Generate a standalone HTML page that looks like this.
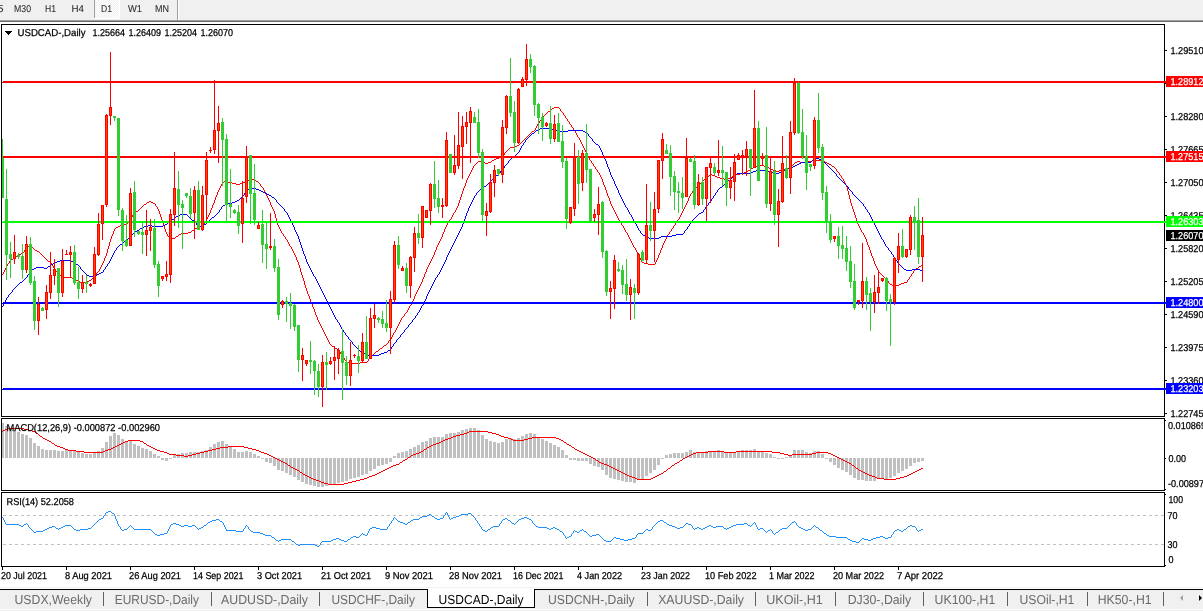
<!DOCTYPE html>
<html lang="en"><head><meta charset="utf-8"><title>USDCAD-,Daily</title>
<style>html,body{margin:0;padding:0;background:#fff;overflow:hidden}svg{display:block;font-family:"Liberation Sans",sans-serif}text{white-space:pre;text-rendering:geometricPrecision}</style></head><body>
<svg width="1203" height="611" viewBox="0 0 1203 611" shape-rendering="crispEdges">
<rect x="0" y="0" width="1203" height="611" fill="#fff"/>
<g id="toolbar">
<rect x="0" y="0" width="1203" height="20" fill="#f0f0f0"/>
<rect x="0" y="20" width="1203" height="1" fill="#a0a0a0"/>
<rect x="0" y="21" width="1203" height="1" fill="#696969"/>
<defs><pattern id="dith" width="2" height="2" patternUnits="userSpaceOnUse"><rect width="2" height="2" fill="#f0f0f0"/><rect width="1" height="1" fill="#fff"/><rect x="1" y="1" width="1" height="1" fill="#fff"/></pattern></defs>
<rect x="95" y="0" width="24" height="18" fill="url(#dith)"/>
<rect x="94" y="0" width="1" height="18" fill="#a0a0a0"/>
<rect x="119" y="0" width="1" height="19" fill="#fff"/>
<rect x="94" y="18" width="26" height="1" fill="#fff"/>
<rect x="177" y="0" width="1" height="20" fill="#a0a0a0"/>
<rect x="178" y="0" width="1" height="20" fill="#fff"/>
<text x="-2.5" y="12" font-size="10" fill="#303030" stroke="#303030" stroke-width="0.1" textLength="6" lengthAdjust="spacingAndGlyphs">5</text>
<text x="14" y="12" font-size="10" fill="#303030" stroke="#303030" stroke-width="0.1" textLength="17" lengthAdjust="spacingAndGlyphs">M30</text>
<text x="45" y="12" font-size="10" fill="#303030" stroke="#303030" stroke-width="0.1" textLength="11" lengthAdjust="spacingAndGlyphs">H1</text>
<text x="71.5" y="12" font-size="10" fill="#303030" stroke="#303030" stroke-width="0.1" textLength="12.5" lengthAdjust="spacingAndGlyphs">H4</text>
<text x="101" y="12" font-size="10" fill="#303030" stroke="#303030" stroke-width="0.1" textLength="11" lengthAdjust="spacingAndGlyphs">D1</text>
<text x="128" y="12" font-size="10" fill="#303030" stroke="#303030" stroke-width="0.1" textLength="14" lengthAdjust="spacingAndGlyphs">W1</text>
<text x="155" y="12" font-size="10" fill="#303030" stroke="#303030" stroke-width="0.1" textLength="14" lengthAdjust="spacingAndGlyphs">MN</text>
</g>
<g id="ma">
<path d="M554 107h5v1h-5zM552 108h2v1h-2zM548 111h2v1h-2zM532 131h2v1h-2zM517 145h2v1h-2zM515 146h2v1h-2zM510 147h5v1h-5zM501 156h2v1h-2zM499 157h2v1h-2zM496 158h3v1h-3zM494 159h2v1h-2zM492 160h2v1h-2zM812 160h11v1h-11zM478 161h5v1h-5zM797 161h3v1h-3zM808 161h4v1h-4zM823 161h2v1h-2zM483 162h2v1h-2zM488 162h3v1h-3zM795 162h2v1h-2zM800 162h8v1h-8zM825 162h2v1h-2zM485 163h3v1h-3zM827 163h2v1h-2zM829 164h2v1h-2zM757 165h7v1h-7zM755 166h2v1h-2zM764 166h3v1h-3zM832 166h2v1h-2zM753 167h2v1h-2zM767 167h2v1h-2zM789 167h2v1h-2zM751 168h2v1h-2zM769 168h2v1h-2zM787 168h2v1h-2zM771 169h2v1h-2zM781 169h6v1h-6zM748 170h2v1h-2zM773 170h3v1h-3zM779 170h2v1h-2zM776 171h3v1h-3zM744 172h3v1h-3zM740 173h4v1h-4zM710 174h2v1h-2zM736 174h4v1h-4zM712 175h3v1h-3zM734 175h2v1h-2zM715 176h2v1h-2zM732 176h2v1h-2zM717 177h3v1h-3zM720 178h4v1h-4zM728 178h3v1h-3zM249 179h6v1h-6zM704 179h2v1h-2zM724 179h4v1h-4zM247 180h2v1h-2zM224 181h4v1h-4zM245 181h2v1h-2zM256 181h2v1h-2zM222 182h2v1h-2zM228 182h4v1h-4zM243 182h2v1h-2zM232 183h4v1h-4zM240 183h3v1h-3zM236 184h4v1h-4zM149 201h2v1h-2zM147 202h2v1h-2zM151 202h2v1h-2zM153 203h2v1h-2zM144 204h2v1h-2zM136 211h2v1h-2zM124 224h3v1h-3zM120 225h4v1h-4zM201 225h2v1h-2zM118 226h2v1h-2zM199 226h2v1h-2zM116 227h2v1h-2zM197 227h2v1h-2zM195 228h2v1h-2zM192 230h2v1h-2zM188 232h3v1h-3zM181 233h7v1h-7zM179 234h2v1h-2zM176 236h2v1h-2zM172 238h3v1h-3zM170 239h2v1h-2zM28 246h2v1h-2zM35 250h2v1h-2zM37 251h2v1h-2zM21 253h2v1h-2zM19 254h2v1h-2zM16 256h2v1h-2zM13 258h2v1h-2zM11 259h2v1h-2zM48 261h2v1h-2zM642 262h2v1h-2zM644 263h4v1h-4zM648 264h7v1h-7zM921 265h2v1h-2zM919 266h2v1h-2zM916 268h2v1h-2zM59 275h2v1h-2zM61 276h3v1h-3zM64 277h8v1h-8zM72 278h3v1h-3zM76 280h2v1h-2zM89 280h2v1h-2zM78 281h2v1h-2zM87 281h2v1h-2zM80 282h7v1h-7zM904 282h3v1h-3zM901 283h3v1h-3zM890 284h2v1h-2zM899 284h2v1h-2zM892 285h7v1h-7zM384 345h2v1h-2zM332 346h2v1h-2zM335 348h2v1h-2zM380 348h2v1h-2zM337 349h2v1h-2zM376 351h2v1h-2zM347 362h2v1h-2zM360 362h7v1h-7zM349 363h11v1h-11zM2 274h1v1h-1zM3 272h1v2h-1zM4 270h1v2h-1zM5 268h1v2h-1zM6 266h1v2h-1zM7 264h1v2h-1zM8 263h1v1h-1zM9 261h1v2h-1zM10 260h1v1h-1zM15 257h1v1h-1zM18 255h1v1h-1zM23 252h1v1h-1zM24 250h1v2h-1zM25 249h1v1h-1zM26 248h1v1h-1zM27 247h1v1h-1zM30 245h1v1h-1zM31 246h1v1h-1zM32 247h1v1h-1zM33 248h1v1h-1zM34 249h1v1h-1zM39 252h1v1h-1zM40 253h1v1h-1zM41 254h1v1h-1zM42 255h1v1h-1zM43 256h1v1h-1zM44 257h1v1h-1zM45 258h1v1h-1zM46 259h1v1h-1zM47 260h1v1h-1zM50 262h1v1h-1zM51 263h1v2h-1zM52 265h1v1h-1zM53 266h1v2h-1zM54 268h1v1h-1zM55 269h1v2h-1zM56 271h1v1h-1zM57 272h1v2h-1zM58 274h1v1h-1zM75 279h1v1h-1zM91 279h1v1h-1zM92 278h1v1h-1zM93 277h1v1h-1zM94 276h1v1h-1zM95 275h1v1h-1zM96 273h1v2h-1zM97 272h1v1h-1zM98 271h1v1h-1zM99 269h1v2h-1zM100 267h1v2h-1zM101 265h1v2h-1zM102 263h1v2h-1zM103 261h1v2h-1zM104 258h1v3h-1zM105 256h1v2h-1zM106 253h1v3h-1zM107 249h1v4h-1zM108 246h1v3h-1zM109 242h1v4h-1zM110 239h1v3h-1zM111 236h1v3h-1zM112 234h1v2h-1zM113 231h1v3h-1zM114 229h1v2h-1zM115 228h1v1h-1zM127 222h1v2h-1zM128 221h1v1h-1zM129 219h1v2h-1zM130 218h1v1h-1zM131 217h1v1h-1zM132 215h1v2h-1zM133 214h1v1h-1zM134 213h1v1h-1zM135 212h1v1h-1zM138 210h1v1h-1zM139 209h1v1h-1zM140 208h1v1h-1zM141 207h1v1h-1zM142 206h1v1h-1zM143 205h1v1h-1zM146 203h1v1h-1zM155 204h1v2h-1zM156 206h1v1h-1zM157 207h1v2h-1zM158 209h1v2h-1zM159 211h1v3h-1zM160 214h1v3h-1zM161 217h1v3h-1zM162 220h1v3h-1zM163 223h1v3h-1zM164 226h1v3h-1zM165 229h1v3h-1zM166 232h1v2h-1zM167 234h1v2h-1zM168 236h1v1h-1zM169 237h1v2h-1zM175 237h1v1h-1zM178 235h1v1h-1zM191 231h1v1h-1zM194 229h1v1h-1zM203 224h1v1h-1zM204 222h1v2h-1zM205 221h1v1h-1zM206 219h1v2h-1zM207 217h1v2h-1zM208 215h1v2h-1zM209 213h1v2h-1zM210 210h1v3h-1zM211 208h1v2h-1zM212 205h1v3h-1zM213 203h1v2h-1zM214 200h1v3h-1zM215 197h1v3h-1zM216 195h1v2h-1zM217 192h1v3h-1zM218 190h1v2h-1zM219 188h1v2h-1zM220 186h1v2h-1zM221 184h1v2h-1zM222 183h1v1h-1zM255 180h1v1h-1zM258 182h1v1h-1zM259 183h1v1h-1zM260 184h1v2h-1zM261 186h1v1h-1zM262 187h1v1h-1zM263 188h1v2h-1zM264 190h1v2h-1zM265 192h1v2h-1zM266 194h1v2h-1zM267 196h1v2h-1zM268 198h1v2h-1zM269 200h1v2h-1zM270 202h1v3h-1zM271 205h1v2h-1zM272 207h1v2h-1zM273 209h1v2h-1zM274 211h1v3h-1zM275 214h1v4h-1zM276 218h1v3h-1zM277 221h1v4h-1zM278 225h1v2h-1zM279 227h1v2h-1zM280 229h1v2h-1zM281 231h1v2h-1zM282 233h1v1h-1zM283 234h1v2h-1zM284 236h1v1h-1zM285 237h1v2h-1zM286 239h1v1h-1zM287 240h1v2h-1zM288 242h1v2h-1zM289 244h1v2h-1zM290 246h1v1h-1zM291 247h1v2h-1zM292 249h1v2h-1zM293 251h1v2h-1zM294 253h1v2h-1zM295 255h1v2h-1zM296 257h1v3h-1zM297 260h1v2h-1zM298 262h1v3h-1zM299 265h1v3h-1zM300 268h1v4h-1zM301 272h1v3h-1zM302 275h1v3h-1zM303 278h1v3h-1zM304 281h1v4h-1zM305 285h1v3h-1zM306 288h1v3h-1zM307 291h1v3h-1zM308 294h1v2h-1zM309 296h1v3h-1zM310 299h1v3h-1zM311 302h1v2h-1zM312 304h1v3h-1zM313 307h1v2h-1zM314 309h1v3h-1zM315 312h1v3h-1zM316 315h1v2h-1zM317 317h1v3h-1zM318 320h1v2h-1zM319 322h1v2h-1zM320 324h1v2h-1zM321 326h1v2h-1zM322 328h1v2h-1zM323 330h1v2h-1zM324 332h1v2h-1zM325 334h1v2h-1zM326 336h1v2h-1zM327 338h1v2h-1zM328 340h1v2h-1zM329 342h1v2h-1zM330 344h1v1h-1zM331 345h1v1h-1zM334 347h1v1h-1zM339 350h1v2h-1zM340 352h1v2h-1zM341 354h1v2h-1zM342 356h1v1h-1zM343 357h1v1h-1zM344 358h1v2h-1zM345 360h1v1h-1zM346 361h1v1h-1zM367 361h1v1h-1zM368 359h1v2h-1zM369 358h1v1h-1zM370 357h1v1h-1zM371 356h1v1h-1zM372 355h1v1h-1zM373 354h1v1h-1zM374 353h1v1h-1zM375 352h1v1h-1zM378 350h1v1h-1zM379 349h1v1h-1zM382 347h1v1h-1zM383 346h1v1h-1zM386 344h1v1h-1zM387 343h1v1h-1zM388 341h1v2h-1zM389 340h1v1h-1zM390 339h1v1h-1zM391 337h1v2h-1zM392 335h1v2h-1zM393 333h1v2h-1zM394 332h1v1h-1zM395 330h1v2h-1zM396 328h1v2h-1zM397 326h1v2h-1zM398 324h1v2h-1zM399 322h1v2h-1zM400 320h1v2h-1zM401 318h1v2h-1zM402 317h1v1h-1zM403 316h1v1h-1zM404 314h1v2h-1zM405 313h1v1h-1zM406 312h1v1h-1zM407 310h1v2h-1zM408 308h1v2h-1zM409 306h1v2h-1zM410 305h1v1h-1zM411 303h1v2h-1zM412 301h1v2h-1zM413 299h1v2h-1zM414 296h1v3h-1zM415 294h1v2h-1zM416 292h1v2h-1zM417 290h1v2h-1zM418 288h1v2h-1zM419 286h1v2h-1zM420 284h1v2h-1zM421 282h1v2h-1zM422 279h1v3h-1zM423 277h1v2h-1zM424 274h1v3h-1zM425 272h1v2h-1zM426 269h1v3h-1zM427 267h1v2h-1zM428 265h1v2h-1zM429 263h1v2h-1zM430 261h1v2h-1zM431 259h1v2h-1zM432 257h1v2h-1zM433 255h1v2h-1zM434 252h1v3h-1zM435 250h1v2h-1zM436 247h1v3h-1zM437 245h1v2h-1zM438 243h1v2h-1zM439 241h1v2h-1zM440 239h1v2h-1zM441 237h1v2h-1zM442 234h1v3h-1zM443 232h1v2h-1zM444 229h1v3h-1zM445 227h1v2h-1zM446 225h1v2h-1zM447 223h1v2h-1zM448 222h1v1h-1zM449 220h1v2h-1zM450 219h1v1h-1zM451 217h1v2h-1zM452 215h1v2h-1zM453 213h1v2h-1zM454 212h1v1h-1zM455 210h1v2h-1zM456 208h1v2h-1zM457 206h1v2h-1zM458 203h1v3h-1zM459 200h1v3h-1zM460 197h1v3h-1zM461 194h1v3h-1zM462 191h1v3h-1zM463 188h1v3h-1zM464 186h1v2h-1zM465 183h1v3h-1zM466 180h1v3h-1zM467 178h1v2h-1zM468 176h1v2h-1zM469 174h1v2h-1zM470 172h1v2h-1zM471 170h1v2h-1zM472 168h1v2h-1zM473 166h1v2h-1zM474 165h1v1h-1zM475 164h1v1h-1zM476 163h1v1h-1zM477 162h1v1h-1zM491 161h1v1h-1zM503 155h1v1h-1zM504 153h1v2h-1zM505 152h1v1h-1zM506 151h1v1h-1zM507 150h1v1h-1zM508 149h1v1h-1zM509 148h1v1h-1zM519 144h1v1h-1zM520 143h1v1h-1zM521 142h1v1h-1zM522 141h1v1h-1zM523 140h1v1h-1zM524 139h1v1h-1zM525 138h1v1h-1zM526 137h1v1h-1zM527 136h1v1h-1zM528 135h1v1h-1zM529 134h1v1h-1zM530 133h1v1h-1zM531 132h1v1h-1zM534 130h1v1h-1zM535 128h1v2h-1zM536 126h1v2h-1zM537 124h1v2h-1zM538 123h1v1h-1zM539 121h1v2h-1zM540 120h1v1h-1zM541 118h1v2h-1zM542 117h1v1h-1zM543 116h1v1h-1zM544 115h1v1h-1zM545 114h1v1h-1zM546 113h1v1h-1zM547 112h1v1h-1zM550 110h1v1h-1zM551 109h1v1h-1zM559 108h1v1h-1zM560 109h1v2h-1zM561 111h1v1h-1zM562 112h1v1h-1zM563 113h1v2h-1zM564 115h1v1h-1zM565 116h1v2h-1zM566 118h1v1h-1zM567 119h1v2h-1zM568 121h1v1h-1zM569 122h1v2h-1zM570 124h1v1h-1zM571 125h1v2h-1zM572 127h1v1h-1zM573 128h1v2h-1zM574 130h1v1h-1zM575 131h1v2h-1zM576 133h1v2h-1zM577 135h1v2h-1zM578 137h1v1h-1zM579 138h1v2h-1zM580 140h1v2h-1zM581 142h1v2h-1zM582 144h1v2h-1zM583 146h1v2h-1zM584 148h1v2h-1zM585 150h1v2h-1zM586 152h1v2h-1zM587 154h1v2h-1zM588 156h1v2h-1zM589 158h1v2h-1zM590 160h1v1h-1zM591 161h1v2h-1zM592 163h1v1h-1zM593 164h1v2h-1zM594 166h1v1h-1zM595 167h1v2h-1zM596 169h1v1h-1zM597 170h1v2h-1zM598 172h1v1h-1zM599 173h1v2h-1zM600 175h1v2h-1zM601 177h1v2h-1zM602 179h1v3h-1zM603 182h1v3h-1zM604 185h1v2h-1zM605 187h1v3h-1zM606 190h1v3h-1zM607 193h1v3h-1zM608 196h1v2h-1zM609 198h1v3h-1zM610 201h1v3h-1zM611 204h1v2h-1zM612 206h1v2h-1zM613 208h1v2h-1zM614 210h1v2h-1zM615 212h1v2h-1zM616 214h1v2h-1zM617 216h1v2h-1zM618 218h1v2h-1zM619 220h1v2h-1zM620 222h1v1h-1zM621 223h1v2h-1zM622 225h1v1h-1zM623 226h1v2h-1zM624 228h1v2h-1zM625 230h1v2h-1zM626 232h1v1h-1zM627 233h1v2h-1zM628 235h1v2h-1zM629 237h1v2h-1zM630 239h1v2h-1zM631 241h1v2h-1zM632 243h1v2h-1zM633 245h1v2h-1zM634 247h1v1h-1zM635 248h1v2h-1zM636 250h1v2h-1zM637 252h1v2h-1zM638 254h1v2h-1zM639 256h1v2h-1zM640 258h1v2h-1zM641 260h1v2h-1zM655 262h1v2h-1zM656 260h1v2h-1zM657 258h1v2h-1zM658 255h1v3h-1zM659 253h1v2h-1zM660 250h1v3h-1zM661 248h1v2h-1zM662 245h1v3h-1zM663 243h1v2h-1zM664 241h1v2h-1zM665 239h1v2h-1zM666 237h1v2h-1zM667 235h1v2h-1zM668 234h1v1h-1zM669 232h1v2h-1zM670 231h1v1h-1zM671 229h1v2h-1zM672 228h1v1h-1zM673 226h1v2h-1zM674 225h1v1h-1zM675 223h1v2h-1zM676 222h1v1h-1zM677 220h1v2h-1zM678 219h1v1h-1zM679 217h1v2h-1zM680 215h1v2h-1zM681 213h1v2h-1zM682 211h1v2h-1zM683 209h1v2h-1zM684 207h1v2h-1zM685 205h1v2h-1zM686 203h1v2h-1zM687 201h1v2h-1zM688 198h1v3h-1zM689 196h1v2h-1zM690 194h1v2h-1zM691 193h1v1h-1zM692 191h1v2h-1zM693 190h1v1h-1zM694 189h1v1h-1zM695 188h1v1h-1zM696 187h1v1h-1zM697 186h1v1h-1zM698 185h1v1h-1zM699 184h1v1h-1zM700 183h1v1h-1zM701 182h1v1h-1zM702 181h1v1h-1zM703 180h1v1h-1zM706 178h1v1h-1zM707 177h1v1h-1zM708 176h1v1h-1zM709 175h1v1h-1zM731 177h1v1h-1zM747 171h1v1h-1zM750 169h1v1h-1zM791 166h1v1h-1zM792 165h1v1h-1zM793 164h1v1h-1zM794 163h1v1h-1zM831 165h1v1h-1zM834 167h1v1h-1zM835 168h1v1h-1zM836 169h1v2h-1zM837 171h1v1h-1zM838 172h1v1h-1zM839 173h1v2h-1zM840 175h1v1h-1zM841 176h1v2h-1zM842 178h1v1h-1zM843 179h1v2h-1zM844 181h1v2h-1zM845 183h1v2h-1zM846 185h1v2h-1zM847 187h1v4h-1zM848 191h1v4h-1zM849 195h1v4h-1zM850 199h1v4h-1zM851 203h1v3h-1zM852 206h1v3h-1zM853 209h1v3h-1zM854 212h1v3h-1zM855 215h1v3h-1zM856 218h1v3h-1zM857 221h1v3h-1zM858 224h1v2h-1zM859 226h1v2h-1zM860 228h1v2h-1zM861 230h1v2h-1zM862 232h1v1h-1zM863 233h1v2h-1zM864 235h1v2h-1zM865 237h1v2h-1zM866 239h1v3h-1zM867 242h1v3h-1zM868 245h1v2h-1zM869 247h1v3h-1zM870 250h1v3h-1zM871 253h1v3h-1zM872 256h1v2h-1zM873 258h1v3h-1zM874 261h1v3h-1zM875 264h1v2h-1zM876 266h1v2h-1zM877 268h1v2h-1zM878 270h1v2h-1zM879 272h1v1h-1zM880 273h1v1h-1zM881 274h1v1h-1zM882 275h1v1h-1zM883 276h1v1h-1zM884 277h1v1h-1zM885 278h1v1h-1zM886 279h1v1h-1zM887 280h1v1h-1zM888 281h1v2h-1zM889 283h1v1h-1zM907 280h1v2h-1zM908 279h1v1h-1zM909 277h1v2h-1zM910 276h1v1h-1zM911 274h1v2h-1zM912 273h1v1h-1zM913 271h1v2h-1zM914 270h1v1h-1zM915 269h1v1h-1zM918 267h1v1h-1z" fill="#ff0000"/>
<path d="M540 128h11v1h-11zM538 129h2v1h-2zM551 129h2v1h-2zM536 130h2v1h-2zM553 130h7v1h-7zM568 130h15v1h-15zM560 131h8v1h-8zM583 131h2v1h-2zM585 132h2v1h-2zM532 133h2v1h-2zM596 144h2v1h-2zM512 157h2v1h-2zM814 158h5v1h-5zM819 159h2v1h-2zM821 160h2v1h-2zM801 162h10v1h-10zM799 163h2v1h-2zM797 164h2v1h-2zM795 165h2v1h-2zM793 166h2v1h-2zM791 167h2v1h-2zM788 168h3v1h-3zM785 169h3v1h-3zM756 170h12v1h-12zM783 170h2v1h-2zM753 171h3v1h-3zM768 171h3v1h-3zM781 171h2v1h-2zM751 172h2v1h-2zM771 172h2v1h-2zM779 172h2v1h-2zM737 173h14v1h-14zM773 173h6v1h-6zM735 174h2v1h-2zM496 175h2v1h-2zM728 180h2v1h-2zM484 186h2v1h-2zM720 187h2v1h-2zM250 188h6v1h-6zM248 189h2v1h-2zM256 189h3v1h-3zM480 189h2v1h-2zM259 190h2v1h-2zM261 191h2v1h-2zM263 192h2v1h-2zM265 193h2v1h-2zM267 194h2v1h-2zM269 195h2v1h-2zM272 197h2v1h-2zM237 200h2v1h-2zM235 201h2v1h-2zM232 202h3v1h-3zM228 203h4v1h-4zM225 204h3v1h-3zM223 205h2v1h-2zM701 212h2v1h-2zM699 213h2v1h-2zM180 214h7v1h-7zM178 215h2v1h-2zM176 216h2v1h-2zM212 217h2v1h-2zM172 219h2v1h-2zM192 220h2v1h-2zM168 222h2v1h-2zM165 224h2v1h-2zM204 224h2v1h-2zM148 225h4v1h-4zM163 225h2v1h-2zM144 226h4v1h-4zM152 226h11v1h-11zM198 226h5v1h-5zM142 227h2v1h-2zM140 228h2v1h-2zM137 230h2v1h-2zM135 231h2v1h-2zM676 234h7v1h-7zM643 235h2v1h-2zM672 235h4v1h-4zM645 236h2v1h-2zM661 236h11v1h-11zM647 237h2v1h-2zM659 237h2v1h-2zM649 238h10v1h-10zM124 241h2v1h-2zM120 244h2v1h-2zM60 260h11v1h-11zM57 261h3v1h-3zM71 261h2v1h-2zM55 262h2v1h-2zM73 262h2v1h-2zM53 263h2v1h-2zM51 264h2v1h-2zM76 264h2v1h-2zM48 266h2v1h-2zM36 267h8v1h-8zM34 268h2v1h-2zM44 268h3v1h-3zM32 269h2v1h-2zM904 269h2v1h-2zM912 269h8v1h-8zM906 270h6v1h-6zM920 270h3v1h-3zM101 272h2v1h-2zM99 273h2v1h-2zM97 274h2v1h-2zM87 275h2v1h-2zM95 275h2v1h-2zM89 276h6v1h-6zM20 282h2v1h-2zM388 350h2v1h-2zM360 351h2v1h-2zM384 352h3v1h-3zM363 353h2v1h-2zM381 353h3v1h-3zM365 354h3v1h-3zM379 354h2v1h-2zM368 355h11v1h-11zM2 306h1v1h-1zM3 304h1v2h-1zM4 302h1v2h-1zM5 300h1v2h-1zM6 298h1v2h-1zM7 297h1v1h-1zM8 295h1v2h-1zM9 294h1v1h-1zM10 293h1v1h-1zM11 292h1v1h-1zM12 290h1v2h-1zM13 289h1v1h-1zM14 288h1v1h-1zM15 287h1v1h-1zM16 286h1v1h-1zM17 285h1v1h-1zM18 284h1v1h-1zM19 283h1v1h-1zM22 281h1v1h-1zM23 280h1v1h-1zM24 279h1v1h-1zM25 278h1v1h-1zM26 277h1v1h-1zM27 275h1v2h-1zM28 274h1v1h-1zM29 272h1v2h-1zM30 271h1v1h-1zM31 270h1v1h-1zM47 267h1v1h-1zM50 265h1v1h-1zM75 263h1v1h-1zM78 265h1v1h-1zM79 266h1v1h-1zM80 267h1v2h-1zM81 269h1v1h-1zM82 270h1v1h-1zM83 271h1v1h-1zM84 272h1v1h-1zM85 273h1v1h-1zM86 274h1v1h-1zM103 270h1v2h-1zM104 269h1v1h-1zM105 267h1v2h-1zM106 266h1v1h-1zM107 264h1v2h-1zM108 263h1v1h-1zM109 261h1v2h-1zM110 259h1v2h-1zM111 257h1v2h-1zM112 255h1v2h-1zM113 253h1v2h-1zM114 251h1v2h-1zM115 250h1v1h-1zM116 248h1v2h-1zM117 247h1v1h-1zM118 246h1v1h-1zM119 245h1v1h-1zM122 243h1v1h-1zM123 242h1v1h-1zM126 240h1v1h-1zM127 239h1v1h-1zM128 238h1v1h-1zM129 237h1v1h-1zM130 236h1v1h-1zM131 235h1v1h-1zM132 234h1v1h-1zM133 233h1v1h-1zM134 232h1v1h-1zM139 229h1v1h-1zM167 223h1v1h-1zM170 221h1v1h-1zM171 220h1v1h-1zM174 218h1v1h-1zM175 217h1v1h-1zM187 215h1v1h-1zM188 216h1v1h-1zM189 217h1v1h-1zM190 218h1v1h-1zM191 219h1v1h-1zM194 221h1v1h-1zM195 222h1v1h-1zM196 223h1v2h-1zM197 225h1v1h-1zM203 225h1v1h-1zM206 223h1v1h-1zM207 222h1v1h-1zM208 221h1v1h-1zM209 220h1v1h-1zM210 219h1v1h-1zM211 218h1v1h-1zM214 216h1v1h-1zM215 215h1v1h-1zM216 214h1v1h-1zM217 213h1v1h-1zM218 212h1v1h-1zM219 210h1v2h-1zM220 209h1v1h-1zM221 207h1v2h-1zM222 206h1v1h-1zM239 199h1v1h-1zM240 198h1v1h-1zM241 197h1v1h-1zM242 196h1v1h-1zM243 195h1v1h-1zM244 193h1v2h-1zM245 192h1v1h-1zM246 191h1v1h-1zM247 190h1v1h-1zM271 196h1v1h-1zM274 198h1v1h-1zM275 199h1v1h-1zM276 200h1v2h-1zM277 202h1v1h-1zM278 203h1v1h-1zM279 204h1v1h-1zM280 205h1v1h-1zM281 206h1v1h-1zM282 207h1v1h-1zM283 208h1v1h-1zM284 209h1v2h-1zM285 211h1v1h-1zM286 212h1v1h-1zM287 213h1v2h-1zM288 215h1v2h-1zM289 217h1v2h-1zM290 219h1v2h-1zM291 221h1v2h-1zM292 223h1v2h-1zM293 225h1v2h-1zM294 227h1v3h-1zM295 230h1v2h-1zM296 232h1v2h-1zM297 234h1v2h-1zM298 236h1v3h-1zM299 239h1v3h-1zM300 242h1v3h-1zM301 245h1v3h-1zM302 248h1v3h-1zM303 251h1v3h-1zM304 254h1v2h-1zM305 256h1v3h-1zM306 259h1v3h-1zM307 262h1v2h-1zM308 264h1v2h-1zM309 266h1v2h-1zM310 268h1v2h-1zM311 270h1v2h-1zM312 272h1v2h-1zM313 274h1v2h-1zM314 276h1v1h-1zM315 277h1v2h-1zM316 279h1v2h-1zM317 281h1v2h-1zM318 283h1v2h-1zM319 285h1v2h-1zM320 287h1v2h-1zM321 289h1v2h-1zM322 291h1v2h-1zM323 293h1v2h-1zM324 295h1v2h-1zM325 297h1v2h-1zM326 299h1v2h-1zM327 301h1v2h-1zM328 303h1v2h-1zM329 305h1v2h-1zM330 307h1v2h-1zM331 309h1v2h-1zM332 311h1v2h-1zM333 313h1v2h-1zM334 315h1v2h-1zM335 317h1v2h-1zM336 319h1v1h-1zM337 320h1v2h-1zM338 322h1v1h-1zM339 323h1v2h-1zM340 325h1v2h-1zM341 327h1v2h-1zM342 329h1v1h-1zM343 330h1v2h-1zM344 332h1v1h-1zM345 333h1v2h-1zM346 335h1v1h-1zM347 336h1v1h-1zM348 337h1v2h-1zM349 339h1v1h-1zM350 340h1v1h-1zM351 341h1v1h-1zM352 342h1v2h-1zM353 344h1v1h-1zM354 345h1v1h-1zM355 346h1v1h-1zM356 347h1v1h-1zM357 348h1v1h-1zM358 349h1v1h-1zM359 350h1v1h-1zM362 352h1v1h-1zM387 351h1v1h-1zM390 349h1v1h-1zM391 347h1v2h-1zM392 346h1v1h-1zM393 344h1v2h-1zM394 343h1v1h-1zM395 342h1v1h-1zM396 340h1v2h-1zM397 339h1v1h-1zM398 338h1v1h-1zM399 337h1v1h-1zM400 335h1v2h-1zM401 334h1v1h-1zM402 333h1v1h-1zM403 332h1v1h-1zM404 330h1v2h-1zM405 329h1v1h-1zM406 328h1v1h-1zM407 327h1v1h-1zM408 325h1v2h-1zM409 324h1v1h-1zM410 323h1v1h-1zM411 322h1v1h-1zM412 320h1v2h-1zM413 319h1v1h-1zM414 318h1v1h-1zM415 316h1v2h-1zM416 315h1v1h-1zM417 313h1v2h-1zM418 312h1v1h-1zM419 310h1v2h-1zM420 308h1v2h-1zM421 306h1v2h-1zM422 305h1v1h-1zM423 303h1v2h-1zM424 301h1v2h-1zM425 299h1v2h-1zM426 296h1v3h-1zM427 294h1v2h-1zM428 292h1v2h-1zM429 290h1v2h-1zM430 288h1v2h-1zM431 286h1v2h-1zM432 284h1v2h-1zM433 282h1v2h-1zM434 280h1v2h-1zM435 278h1v2h-1zM436 277h1v1h-1zM437 275h1v2h-1zM438 274h1v1h-1zM439 272h1v2h-1zM440 270h1v2h-1zM441 268h1v2h-1zM442 266h1v2h-1zM443 264h1v2h-1zM444 262h1v2h-1zM445 260h1v2h-1zM446 257h1v3h-1zM447 255h1v2h-1zM448 253h1v2h-1zM449 251h1v2h-1zM450 249h1v2h-1zM451 247h1v2h-1zM452 245h1v2h-1zM453 243h1v2h-1zM454 241h1v2h-1zM455 239h1v2h-1zM456 237h1v2h-1zM457 235h1v2h-1zM458 233h1v2h-1zM459 231h1v2h-1zM460 229h1v2h-1zM461 227h1v2h-1zM462 224h1v3h-1zM463 221h1v3h-1zM464 219h1v2h-1zM465 216h1v3h-1zM466 213h1v3h-1zM467 211h1v2h-1zM468 208h1v3h-1zM469 206h1v2h-1zM470 204h1v2h-1zM471 202h1v2h-1zM472 200h1v2h-1zM473 198h1v2h-1zM474 196h1v2h-1zM475 195h1v1h-1zM476 193h1v2h-1zM477 192h1v1h-1zM478 191h1v1h-1zM479 190h1v1h-1zM482 188h1v1h-1zM483 187h1v1h-1zM486 185h1v1h-1zM487 184h1v1h-1zM488 183h1v1h-1zM489 182h1v1h-1zM490 181h1v1h-1zM491 180h1v1h-1zM492 179h1v1h-1zM493 178h1v1h-1zM494 177h1v1h-1zM495 176h1v1h-1zM498 174h1v1h-1zM499 173h1v1h-1zM500 171h1v2h-1zM501 170h1v1h-1zM502 169h1v1h-1zM503 168h1v1h-1zM504 166h1v2h-1zM505 165h1v1h-1zM506 164h1v1h-1zM507 163h1v1h-1zM508 161h1v2h-1zM509 160h1v1h-1zM510 159h1v1h-1zM511 158h1v1h-1zM514 156h1v1h-1zM515 155h1v1h-1zM516 154h1v1h-1zM517 153h1v1h-1zM518 152h1v1h-1zM519 150h1v2h-1zM520 148h1v2h-1zM521 146h1v2h-1zM522 145h1v1h-1zM523 143h1v2h-1zM524 142h1v1h-1zM525 140h1v2h-1zM526 139h1v1h-1zM527 138h1v1h-1zM528 137h1v1h-1zM529 136h1v1h-1zM530 135h1v1h-1zM531 134h1v1h-1zM534 132h1v1h-1zM535 131h1v1h-1zM587 133h1v1h-1zM588 134h1v2h-1zM589 136h1v1h-1zM590 137h1v1h-1zM591 138h1v1h-1zM592 139h1v2h-1zM593 141h1v1h-1zM594 142h1v1h-1zM595 143h1v1h-1zM598 145h1v1h-1zM599 146h1v2h-1zM600 148h1v2h-1zM601 150h1v2h-1zM602 152h1v3h-1zM603 155h1v2h-1zM604 157h1v2h-1zM605 159h1v2h-1zM606 161h1v3h-1zM607 164h1v3h-1zM608 167h1v2h-1zM609 169h1v3h-1zM610 172h1v3h-1zM611 175h1v2h-1zM612 177h1v2h-1zM613 179h1v2h-1zM614 181h1v3h-1zM615 184h1v2h-1zM616 186h1v2h-1zM617 188h1v2h-1zM618 190h1v3h-1zM619 193h1v2h-1zM620 195h1v2h-1zM621 197h1v2h-1zM622 199h1v2h-1zM623 201h1v2h-1zM624 203h1v2h-1zM625 205h1v2h-1zM626 207h1v1h-1zM627 208h1v2h-1zM628 210h1v2h-1zM629 212h1v2h-1zM630 214h1v1h-1zM631 215h1v2h-1zM632 217h1v2h-1zM633 219h1v2h-1zM634 221h1v1h-1zM635 222h1v2h-1zM636 224h1v2h-1zM637 226h1v2h-1zM638 228h1v2h-1zM639 230h1v1h-1zM640 231h1v2h-1zM641 233h1v1h-1zM642 234h1v1h-1zM683 233h1v1h-1zM684 231h1v2h-1zM685 230h1v1h-1zM686 229h1v1h-1zM687 227h1v2h-1zM688 226h1v1h-1zM689 224h1v2h-1zM690 223h1v1h-1zM691 222h1v1h-1zM692 220h1v2h-1zM693 219h1v1h-1zM694 218h1v1h-1zM695 217h1v1h-1zM696 216h1v1h-1zM697 215h1v1h-1zM698 214h1v1h-1zM703 210h1v2h-1zM704 209h1v1h-1zM705 207h1v2h-1zM706 206h1v1h-1zM707 205h1v1h-1zM708 203h1v2h-1zM709 202h1v1h-1zM710 201h1v1h-1zM711 199h1v2h-1zM712 198h1v1h-1zM713 196h1v2h-1zM714 195h1v1h-1zM715 193h1v2h-1zM716 192h1v1h-1zM717 190h1v2h-1zM718 189h1v1h-1zM719 188h1v1h-1zM722 186h1v1h-1zM723 185h1v1h-1zM724 184h1v1h-1zM725 183h1v1h-1zM726 182h1v1h-1zM727 181h1v1h-1zM730 179h1v1h-1zM731 178h1v1h-1zM732 177h1v1h-1zM733 176h1v1h-1zM734 175h1v1h-1zM811 161h1v1h-1zM812 160h1v1h-1zM813 159h1v1h-1zM823 161h1v1h-1zM824 162h1v1h-1zM825 163h1v1h-1zM826 164h1v1h-1zM827 165h1v1h-1zM828 166h1v1h-1zM829 167h1v1h-1zM830 168h1v1h-1zM831 169h1v1h-1zM832 170h1v1h-1zM833 171h1v1h-1zM834 172h1v1h-1zM835 173h1v1h-1zM836 174h1v2h-1zM837 176h1v1h-1zM838 177h1v1h-1zM839 178h1v1h-1zM840 179h1v1h-1zM841 180h1v1h-1zM842 181h1v1h-1zM843 182h1v1h-1zM844 183h1v1h-1zM845 184h1v1h-1zM846 185h1v1h-1zM847 186h1v1h-1zM848 187h1v2h-1zM849 189h1v1h-1zM850 190h1v1h-1zM851 191h1v1h-1zM852 192h1v2h-1zM853 194h1v1h-1zM854 195h1v1h-1zM855 196h1v1h-1zM856 197h1v1h-1zM857 198h1v1h-1zM858 199h1v1h-1zM859 200h1v1h-1zM860 201h1v1h-1zM861 202h1v1h-1zM862 203h1v1h-1zM863 204h1v2h-1zM864 206h1v1h-1zM865 207h1v2h-1zM866 209h1v1h-1zM867 210h1v2h-1zM868 212h1v1h-1zM869 213h1v2h-1zM870 215h1v2h-1zM871 217h1v2h-1zM872 219h1v2h-1zM873 221h1v2h-1zM874 223h1v2h-1zM875 225h1v2h-1zM876 227h1v2h-1zM877 229h1v2h-1zM878 231h1v2h-1zM879 233h1v2h-1zM880 235h1v2h-1zM881 237h1v2h-1zM882 239h1v1h-1zM883 240h1v2h-1zM884 242h1v2h-1zM885 244h1v2h-1zM886 246h1v1h-1zM887 247h1v1h-1zM888 248h1v2h-1zM889 250h1v1h-1zM890 251h1v1h-1zM891 252h1v2h-1zM892 254h1v1h-1zM893 255h1v2h-1zM894 257h1v1h-1zM895 258h1v2h-1zM896 260h1v1h-1zM897 261h1v2h-1zM898 263h1v1h-1zM899 264h1v1h-1zM900 265h1v1h-1zM901 266h1v1h-1zM902 267h1v1h-1zM903 268h1v1h-1z" fill="#0000ff"/>
</g>
<g id="hlines">
<rect x="3" y="81" width="1162" height="1" fill="#ff0000"/>
<rect x="2" y="82" width="1163" height="1" fill="#ff0000"/>
<rect x="3" y="156" width="1162" height="1" fill="#ff0000"/>
<rect x="2" y="157" width="1163" height="1" fill="#ff0000"/>
<rect x="3" y="221" width="1162" height="1" fill="#00ff00"/>
<rect x="2" y="222" width="1163" height="1" fill="#00ff00"/>
<rect x="3" y="302" width="1162" height="1" fill="#0000ff"/>
<rect x="2" y="303" width="1163" height="1" fill="#0000ff"/>
<rect x="3" y="388" width="1162" height="1" fill="#0000ff"/>
<rect x="2" y="389" width="1163" height="1" fill="#0000ff"/>
</g>
<g id="candles">
<rect x="2" y="139" width="1" height="59" fill="#32cd32"/>
<rect x="1" y="158" width="3" height="40" fill="#32cd32"/>
<rect x="6" y="169" width="1" height="111" fill="#32cd32"/>
<rect x="5" y="199" width="3" height="56" fill="#32cd32"/>
<rect x="10" y="242" width="1" height="36" fill="#32cd32"/>
<rect x="9" y="254" width="3" height="5" fill="#32cd32"/>
<rect x="14" y="235" width="1" height="29" fill="#ff0000"/>
<rect x="13" y="252" width="3" height="7" fill="#ff0000"/>
<rect x="14" y="253" width="1" height="5" fill="#ff4500"/>
<rect x="18" y="253" width="1" height="6" fill="#32cd32"/>
<rect x="17" y="255" width="3" height="2" fill="#32cd32"/>
<rect x="22" y="244" width="1" height="35" fill="#32cd32"/>
<rect x="21" y="256" width="3" height="14" fill="#32cd32"/>
<rect x="26" y="236" width="1" height="37" fill="#ff0000"/>
<rect x="25" y="244" width="3" height="26" fill="#ff0000"/>
<rect x="26" y="245" width="1" height="24" fill="#ff4500"/>
<rect x="30" y="237" width="1" height="48" fill="#32cd32"/>
<rect x="29" y="244" width="3" height="39" fill="#32cd32"/>
<rect x="34" y="276" width="1" height="54" fill="#32cd32"/>
<rect x="33" y="281" width="3" height="40" fill="#32cd32"/>
<rect x="38" y="297" width="1" height="38" fill="#ff0000"/>
<rect x="37" y="304" width="3" height="17" fill="#ff0000"/>
<rect x="38" y="305" width="1" height="15" fill="#ff4500"/>
<rect x="42" y="307" width="1" height="4" fill="#32cd32"/>
<rect x="41" y="308" width="3" height="3" fill="#32cd32"/>
<rect x="46" y="285" width="1" height="34" fill="#ff0000"/>
<rect x="45" y="292" width="3" height="18" fill="#ff0000"/>
<rect x="46" y="293" width="1" height="16" fill="#ff4500"/>
<rect x="50" y="252" width="1" height="47" fill="#ff0000"/>
<rect x="49" y="275" width="3" height="18" fill="#ff0000"/>
<rect x="50" y="276" width="1" height="16" fill="#ff4500"/>
<rect x="54" y="259" width="1" height="26" fill="#ff0000"/>
<rect x="53" y="269" width="3" height="7" fill="#ff0000"/>
<rect x="54" y="270" width="1" height="5" fill="#ff4500"/>
<rect x="58" y="268" width="1" height="39" fill="#32cd32"/>
<rect x="57" y="268" width="3" height="25" fill="#32cd32"/>
<rect x="62" y="249" width="1" height="48" fill="#ff0000"/>
<rect x="61" y="261" width="3" height="32" fill="#ff0000"/>
<rect x="62" y="262" width="1" height="30" fill="#ff4500"/>
<rect x="66" y="250" width="1" height="5" fill="#ff0000"/>
<rect x="65" y="254" width="3" height="1" fill="#ff0000"/>
<rect x="70" y="246" width="1" height="31" fill="#ff0000"/>
<rect x="69" y="252" width="3" height="3" fill="#ff0000"/>
<rect x="70" y="253" width="1" height="1" fill="#ff4500"/>
<rect x="74" y="245" width="1" height="40" fill="#32cd32"/>
<rect x="73" y="252" width="3" height="31" fill="#32cd32"/>
<rect x="78" y="267" width="1" height="32" fill="#32cd32"/>
<rect x="77" y="282" width="3" height="7" fill="#32cd32"/>
<rect x="82" y="275" width="1" height="18" fill="#ff0000"/>
<rect x="81" y="282" width="3" height="7" fill="#ff0000"/>
<rect x="82" y="283" width="1" height="5" fill="#ff4500"/>
<rect x="86" y="275" width="1" height="18" fill="#32cd32"/>
<rect x="85" y="282" width="3" height="2" fill="#32cd32"/>
<rect x="90" y="283" width="1" height="4" fill="#ff0000"/>
<rect x="89" y="284" width="3" height="2" fill="#ff0000"/>
<rect x="94" y="247" width="1" height="37" fill="#ff0000"/>
<rect x="93" y="254" width="3" height="30" fill="#ff0000"/>
<rect x="94" y="255" width="1" height="28" fill="#ff4500"/>
<rect x="98" y="213" width="1" height="43" fill="#ff0000"/>
<rect x="97" y="224" width="3" height="31" fill="#ff0000"/>
<rect x="98" y="225" width="1" height="29" fill="#ff4500"/>
<rect x="102" y="205" width="1" height="35" fill="#ff0000"/>
<rect x="101" y="205" width="3" height="19" fill="#ff0000"/>
<rect x="102" y="206" width="1" height="17" fill="#ff4500"/>
<rect x="106" y="114" width="1" height="93" fill="#ff0000"/>
<rect x="105" y="115" width="3" height="90" fill="#ff0000"/>
<rect x="106" y="116" width="1" height="88" fill="#ff4500"/>
<rect x="110" y="52" width="1" height="73" fill="#ff0000"/>
<rect x="109" y="107" width="3" height="9" fill="#ff0000"/>
<rect x="110" y="108" width="1" height="7" fill="#ff4500"/>
<rect x="114" y="116" width="1" height="5" fill="#32cd32"/>
<rect x="113" y="116" width="3" height="2" fill="#32cd32"/>
<rect x="118" y="118" width="1" height="98" fill="#32cd32"/>
<rect x="117" y="118" width="3" height="92" fill="#32cd32"/>
<rect x="122" y="208" width="1" height="43" fill="#32cd32"/>
<rect x="121" y="210" width="3" height="31" fill="#32cd32"/>
<rect x="126" y="215" width="1" height="32" fill="#32cd32"/>
<rect x="125" y="240" width="3" height="6" fill="#32cd32"/>
<rect x="130" y="188" width="1" height="58" fill="#ff0000"/>
<rect x="129" y="193" width="3" height="53" fill="#ff0000"/>
<rect x="130" y="194" width="1" height="51" fill="#ff4500"/>
<rect x="134" y="181" width="1" height="56" fill="#32cd32"/>
<rect x="133" y="192" width="3" height="38" fill="#32cd32"/>
<rect x="138" y="231" width="1" height="4" fill="#32cd32"/>
<rect x="137" y="231" width="3" height="3" fill="#32cd32"/>
<rect x="142" y="222" width="1" height="32" fill="#32cd32"/>
<rect x="141" y="232" width="3" height="3" fill="#32cd32"/>
<rect x="146" y="210" width="1" height="46" fill="#ff0000"/>
<rect x="145" y="230" width="3" height="5" fill="#ff0000"/>
<rect x="146" y="231" width="1" height="3" fill="#ff4500"/>
<rect x="150" y="219" width="1" height="32" fill="#ff0000"/>
<rect x="149" y="227" width="3" height="4" fill="#ff0000"/>
<rect x="150" y="228" width="1" height="2" fill="#ff4500"/>
<rect x="154" y="219" width="1" height="49" fill="#32cd32"/>
<rect x="153" y="228" width="3" height="37" fill="#32cd32"/>
<rect x="158" y="261" width="1" height="36" fill="#32cd32"/>
<rect x="157" y="264" width="3" height="22" fill="#32cd32"/>
<rect x="162" y="276" width="1" height="5" fill="#ff0000"/>
<rect x="161" y="276" width="3" height="3" fill="#ff0000"/>
<rect x="162" y="277" width="1" height="1" fill="#ff4500"/>
<rect x="166" y="261" width="1" height="20" fill="#ff0000"/>
<rect x="165" y="274" width="3" height="3" fill="#ff0000"/>
<rect x="166" y="275" width="1" height="1" fill="#ff4500"/>
<rect x="170" y="209" width="1" height="74" fill="#ff0000"/>
<rect x="169" y="214" width="3" height="61" fill="#ff0000"/>
<rect x="170" y="215" width="1" height="59" fill="#ff4500"/>
<rect x="174" y="152" width="1" height="74" fill="#ff0000"/>
<rect x="173" y="188" width="3" height="27" fill="#ff0000"/>
<rect x="174" y="189" width="1" height="25" fill="#ff4500"/>
<rect x="178" y="171" width="1" height="57" fill="#32cd32"/>
<rect x="177" y="189" width="3" height="16" fill="#32cd32"/>
<rect x="182" y="200" width="1" height="49" fill="#32cd32"/>
<rect x="181" y="204" width="3" height="4" fill="#32cd32"/>
<rect x="186" y="193" width="1" height="5" fill="#32cd32"/>
<rect x="185" y="193" width="3" height="3" fill="#32cd32"/>
<rect x="190" y="188" width="1" height="30" fill="#32cd32"/>
<rect x="189" y="196" width="3" height="18" fill="#32cd32"/>
<rect x="194" y="186" width="1" height="53" fill="#ff0000"/>
<rect x="193" y="190" width="3" height="23" fill="#ff0000"/>
<rect x="194" y="191" width="1" height="21" fill="#ff4500"/>
<rect x="198" y="181" width="1" height="49" fill="#32cd32"/>
<rect x="197" y="190" width="3" height="40" fill="#32cd32"/>
<rect x="202" y="186" width="1" height="45" fill="#ff0000"/>
<rect x="201" y="195" width="3" height="35" fill="#ff0000"/>
<rect x="202" y="196" width="1" height="33" fill="#ff4500"/>
<rect x="206" y="152" width="1" height="69" fill="#ff0000"/>
<rect x="205" y="160" width="3" height="35" fill="#ff0000"/>
<rect x="206" y="161" width="1" height="33" fill="#ff4500"/>
<rect x="210" y="147" width="1" height="6" fill="#ff0000"/>
<rect x="209" y="150" width="3" height="1" fill="#ff0000"/>
<rect x="214" y="80" width="1" height="74" fill="#ff0000"/>
<rect x="213" y="130" width="3" height="20" fill="#ff0000"/>
<rect x="214" y="131" width="1" height="18" fill="#ff4500"/>
<rect x="218" y="106" width="1" height="57" fill="#ff0000"/>
<rect x="217" y="123" width="3" height="8" fill="#ff0000"/>
<rect x="218" y="124" width="1" height="6" fill="#ff4500"/>
<rect x="222" y="118" width="1" height="68" fill="#32cd32"/>
<rect x="221" y="122" width="3" height="18" fill="#32cd32"/>
<rect x="226" y="134" width="1" height="87" fill="#32cd32"/>
<rect x="225" y="139" width="3" height="66" fill="#32cd32"/>
<rect x="230" y="169" width="1" height="49" fill="#32cd32"/>
<rect x="229" y="204" width="3" height="3" fill="#32cd32"/>
<rect x="234" y="209" width="1" height="5" fill="#32cd32"/>
<rect x="233" y="210" width="3" height="3" fill="#32cd32"/>
<rect x="238" y="205" width="1" height="29" fill="#32cd32"/>
<rect x="237" y="212" width="3" height="14" fill="#32cd32"/>
<rect x="242" y="181" width="1" height="62" fill="#ff0000"/>
<rect x="241" y="198" width="3" height="26" fill="#ff0000"/>
<rect x="242" y="199" width="1" height="24" fill="#ff4500"/>
<rect x="246" y="146" width="1" height="57" fill="#ff0000"/>
<rect x="245" y="157" width="3" height="40" fill="#ff0000"/>
<rect x="246" y="158" width="1" height="38" fill="#ff4500"/>
<rect x="250" y="155" width="1" height="69" fill="#32cd32"/>
<rect x="249" y="155" width="3" height="39" fill="#32cd32"/>
<rect x="254" y="164" width="1" height="61" fill="#32cd32"/>
<rect x="253" y="193" width="3" height="27" fill="#32cd32"/>
<rect x="258" y="222" width="1" height="7" fill="#ff0000"/>
<rect x="257" y="225" width="3" height="4" fill="#ff0000"/>
<rect x="258" y="226" width="1" height="2" fill="#ff4500"/>
<rect x="262" y="210" width="1" height="53" fill="#32cd32"/>
<rect x="261" y="224" width="3" height="21" fill="#32cd32"/>
<rect x="266" y="223" width="1" height="46" fill="#32cd32"/>
<rect x="265" y="244" width="3" height="5" fill="#32cd32"/>
<rect x="270" y="213" width="1" height="37" fill="#ff0000"/>
<rect x="269" y="246" width="3" height="2" fill="#ff0000"/>
<rect x="274" y="239" width="1" height="33" fill="#32cd32"/>
<rect x="273" y="246" width="3" height="22" fill="#32cd32"/>
<rect x="278" y="259" width="1" height="61" fill="#32cd32"/>
<rect x="277" y="267" width="3" height="48" fill="#32cd32"/>
<rect x="282" y="300" width="1" height="8" fill="#ff0000"/>
<rect x="281" y="301" width="3" height="4" fill="#ff0000"/>
<rect x="282" y="302" width="1" height="2" fill="#ff4500"/>
<rect x="286" y="297" width="1" height="25" fill="#32cd32"/>
<rect x="285" y="301" width="3" height="3" fill="#32cd32"/>
<rect x="290" y="293" width="1" height="36" fill="#32cd32"/>
<rect x="289" y="303" width="3" height="3" fill="#32cd32"/>
<rect x="294" y="304" width="1" height="27" fill="#32cd32"/>
<rect x="293" y="305" width="3" height="22" fill="#32cd32"/>
<rect x="298" y="325" width="1" height="47" fill="#32cd32"/>
<rect x="297" y="325" width="3" height="35" fill="#32cd32"/>
<rect x="302" y="348" width="1" height="33" fill="#ff0000"/>
<rect x="301" y="355" width="3" height="5" fill="#ff0000"/>
<rect x="302" y="356" width="1" height="3" fill="#ff4500"/>
<rect x="306" y="360" width="1" height="6" fill="#ff0000"/>
<rect x="305" y="360" width="3" height="4" fill="#ff0000"/>
<rect x="306" y="361" width="1" height="2" fill="#ff4500"/>
<rect x="310" y="341" width="1" height="33" fill="#32cd32"/>
<rect x="309" y="360" width="3" height="2" fill="#32cd32"/>
<rect x="314" y="360" width="1" height="35" fill="#32cd32"/>
<rect x="313" y="361" width="3" height="10" fill="#32cd32"/>
<rect x="318" y="364" width="1" height="33" fill="#32cd32"/>
<rect x="317" y="371" width="3" height="16" fill="#32cd32"/>
<rect x="322" y="355" width="1" height="52" fill="#ff0000"/>
<rect x="321" y="362" width="3" height="25" fill="#ff0000"/>
<rect x="322" y="363" width="1" height="23" fill="#ff4500"/>
<rect x="326" y="352" width="1" height="38" fill="#32cd32"/>
<rect x="325" y="362" width="3" height="3" fill="#32cd32"/>
<rect x="330" y="357" width="1" height="8" fill="#ff0000"/>
<rect x="329" y="361" width="3" height="3" fill="#ff0000"/>
<rect x="330" y="362" width="1" height="1" fill="#ff4500"/>
<rect x="334" y="346" width="1" height="34" fill="#ff0000"/>
<rect x="333" y="357" width="3" height="4" fill="#ff0000"/>
<rect x="334" y="358" width="1" height="2" fill="#ff4500"/>
<rect x="338" y="348" width="1" height="26" fill="#ff0000"/>
<rect x="337" y="350" width="3" height="9" fill="#ff0000"/>
<rect x="338" y="351" width="1" height="7" fill="#ff4500"/>
<rect x="342" y="329" width="1" height="71" fill="#32cd32"/>
<rect x="341" y="351" width="3" height="12" fill="#32cd32"/>
<rect x="346" y="356" width="1" height="29" fill="#32cd32"/>
<rect x="345" y="362" width="3" height="14" fill="#32cd32"/>
<rect x="350" y="342" width="1" height="44" fill="#ff0000"/>
<rect x="349" y="360" width="3" height="16" fill="#ff0000"/>
<rect x="350" y="361" width="1" height="14" fill="#ff4500"/>
<rect x="354" y="354" width="1" height="4" fill="#ff0000"/>
<rect x="353" y="355" width="3" height="1" fill="#ff0000"/>
<rect x="358" y="345" width="1" height="28" fill="#32cd32"/>
<rect x="357" y="356" width="3" height="5" fill="#32cd32"/>
<rect x="362" y="333" width="1" height="29" fill="#ff0000"/>
<rect x="361" y="342" width="3" height="19" fill="#ff0000"/>
<rect x="362" y="343" width="1" height="17" fill="#ff4500"/>
<rect x="366" y="316" width="1" height="43" fill="#32cd32"/>
<rect x="365" y="342" width="3" height="17" fill="#32cd32"/>
<rect x="370" y="308" width="1" height="51" fill="#ff0000"/>
<rect x="369" y="318" width="3" height="41" fill="#ff0000"/>
<rect x="370" y="319" width="1" height="39" fill="#ff4500"/>
<rect x="374" y="304" width="1" height="24" fill="#ff0000"/>
<rect x="373" y="315" width="3" height="4" fill="#ff0000"/>
<rect x="374" y="316" width="1" height="2" fill="#ff4500"/>
<rect x="378" y="317" width="1" height="6" fill="#32cd32"/>
<rect x="377" y="318" width="3" height="2" fill="#32cd32"/>
<rect x="382" y="311" width="1" height="17" fill="#32cd32"/>
<rect x="381" y="319" width="3" height="5" fill="#32cd32"/>
<rect x="386" y="300" width="1" height="32" fill="#32cd32"/>
<rect x="385" y="323" width="3" height="5" fill="#32cd32"/>
<rect x="390" y="291" width="1" height="63" fill="#ff0000"/>
<rect x="389" y="299" width="3" height="29" fill="#ff0000"/>
<rect x="390" y="300" width="1" height="27" fill="#ff4500"/>
<rect x="394" y="241" width="1" height="62" fill="#ff0000"/>
<rect x="393" y="245" width="3" height="55" fill="#ff0000"/>
<rect x="394" y="246" width="1" height="53" fill="#ff4500"/>
<rect x="398" y="236" width="1" height="33" fill="#32cd32"/>
<rect x="397" y="245" width="3" height="20" fill="#32cd32"/>
<rect x="402" y="266" width="1" height="5" fill="#ff0000"/>
<rect x="401" y="268" width="3" height="3" fill="#ff0000"/>
<rect x="402" y="269" width="1" height="1" fill="#ff4500"/>
<rect x="406" y="263" width="1" height="30" fill="#32cd32"/>
<rect x="405" y="268" width="3" height="18" fill="#32cd32"/>
<rect x="410" y="256" width="1" height="42" fill="#ff0000"/>
<rect x="409" y="257" width="3" height="29" fill="#ff0000"/>
<rect x="410" y="258" width="1" height="27" fill="#ff4500"/>
<rect x="414" y="227" width="1" height="45" fill="#ff0000"/>
<rect x="413" y="233" width="3" height="25" fill="#ff0000"/>
<rect x="414" y="234" width="1" height="23" fill="#ff4500"/>
<rect x="418" y="214" width="1" height="30" fill="#32cd32"/>
<rect x="417" y="233" width="3" height="5" fill="#32cd32"/>
<rect x="422" y="206" width="1" height="42" fill="#ff0000"/>
<rect x="421" y="206" width="3" height="32" fill="#ff0000"/>
<rect x="422" y="207" width="1" height="30" fill="#ff4500"/>
<rect x="426" y="210" width="1" height="8" fill="#ff0000"/>
<rect x="425" y="210" width="3" height="8" fill="#ff0000"/>
<rect x="426" y="211" width="1" height="6" fill="#ff4500"/>
<rect x="430" y="183" width="1" height="42" fill="#ff0000"/>
<rect x="429" y="184" width="3" height="27" fill="#ff0000"/>
<rect x="430" y="185" width="1" height="25" fill="#ff4500"/>
<rect x="434" y="161" width="1" height="47" fill="#32cd32"/>
<rect x="433" y="184" width="3" height="15" fill="#32cd32"/>
<rect x="438" y="180" width="1" height="33" fill="#32cd32"/>
<rect x="437" y="198" width="3" height="9" fill="#32cd32"/>
<rect x="442" y="198" width="1" height="20" fill="#ff0000"/>
<rect x="441" y="205" width="3" height="2" fill="#ff0000"/>
<rect x="446" y="132" width="1" height="75" fill="#ff0000"/>
<rect x="445" y="140" width="3" height="66" fill="#ff0000"/>
<rect x="446" y="141" width="1" height="64" fill="#ff4500"/>
<rect x="450" y="154" width="1" height="19" fill="#32cd32"/>
<rect x="449" y="154" width="3" height="19" fill="#32cd32"/>
<rect x="454" y="135" width="1" height="40" fill="#ff0000"/>
<rect x="453" y="165" width="3" height="8" fill="#ff0000"/>
<rect x="454" y="166" width="1" height="6" fill="#ff4500"/>
<rect x="458" y="112" width="1" height="57" fill="#ff0000"/>
<rect x="457" y="145" width="3" height="21" fill="#ff0000"/>
<rect x="458" y="146" width="1" height="19" fill="#ff4500"/>
<rect x="462" y="116" width="1" height="63" fill="#ff0000"/>
<rect x="461" y="126" width="3" height="21" fill="#ff0000"/>
<rect x="462" y="127" width="1" height="19" fill="#ff4500"/>
<rect x="466" y="112" width="1" height="32" fill="#ff0000"/>
<rect x="465" y="122" width="3" height="5" fill="#ff0000"/>
<rect x="466" y="123" width="1" height="3" fill="#ff4500"/>
<rect x="470" y="107" width="1" height="56" fill="#ff0000"/>
<rect x="469" y="111" width="3" height="12" fill="#ff0000"/>
<rect x="470" y="112" width="1" height="10" fill="#ff4500"/>
<rect x="474" y="112" width="1" height="11" fill="#32cd32"/>
<rect x="473" y="117" width="3" height="6" fill="#32cd32"/>
<rect x="478" y="109" width="1" height="49" fill="#32cd32"/>
<rect x="477" y="122" width="3" height="31" fill="#32cd32"/>
<rect x="482" y="149" width="1" height="72" fill="#32cd32"/>
<rect x="481" y="152" width="3" height="63" fill="#32cd32"/>
<rect x="486" y="203" width="1" height="33" fill="#ff0000"/>
<rect x="485" y="211" width="3" height="5" fill="#ff0000"/>
<rect x="486" y="212" width="1" height="3" fill="#ff4500"/>
<rect x="490" y="174" width="1" height="39" fill="#ff0000"/>
<rect x="489" y="182" width="3" height="30" fill="#ff0000"/>
<rect x="490" y="183" width="1" height="28" fill="#ff4500"/>
<rect x="494" y="165" width="1" height="32" fill="#ff0000"/>
<rect x="493" y="170" width="3" height="13" fill="#ff0000"/>
<rect x="494" y="171" width="1" height="11" fill="#ff4500"/>
<rect x="498" y="169" width="1" height="7" fill="#32cd32"/>
<rect x="497" y="169" width="3" height="5" fill="#32cd32"/>
<rect x="502" y="120" width="1" height="63" fill="#ff0000"/>
<rect x="501" y="127" width="3" height="48" fill="#ff0000"/>
<rect x="502" y="128" width="1" height="46" fill="#ff4500"/>
<rect x="506" y="95" width="1" height="39" fill="#ff0000"/>
<rect x="505" y="96" width="3" height="32" fill="#ff0000"/>
<rect x="506" y="97" width="1" height="30" fill="#ff4500"/>
<rect x="510" y="58" width="1" height="59" fill="#32cd32"/>
<rect x="509" y="96" width="3" height="17" fill="#32cd32"/>
<rect x="514" y="101" width="1" height="51" fill="#32cd32"/>
<rect x="513" y="112" width="3" height="31" fill="#32cd32"/>
<rect x="518" y="88" width="1" height="56" fill="#ff0000"/>
<rect x="517" y="89" width="3" height="54" fill="#ff0000"/>
<rect x="518" y="90" width="1" height="52" fill="#ff4500"/>
<rect x="522" y="77" width="1" height="10" fill="#ff0000"/>
<rect x="521" y="79" width="3" height="8" fill="#ff0000"/>
<rect x="522" y="80" width="1" height="6" fill="#ff4500"/>
<rect x="526" y="44" width="1" height="42" fill="#ff0000"/>
<rect x="525" y="59" width="3" height="21" fill="#ff0000"/>
<rect x="526" y="60" width="1" height="19" fill="#ff4500"/>
<rect x="530" y="54" width="1" height="19" fill="#32cd32"/>
<rect x="529" y="59" width="3" height="8" fill="#32cd32"/>
<rect x="534" y="65" width="1" height="51" fill="#32cd32"/>
<rect x="533" y="66" width="3" height="39" fill="#32cd32"/>
<rect x="538" y="103" width="1" height="31" fill="#32cd32"/>
<rect x="537" y="104" width="3" height="14" fill="#32cd32"/>
<rect x="542" y="113" width="1" height="28" fill="#32cd32"/>
<rect x="541" y="117" width="3" height="10" fill="#32cd32"/>
<rect x="546" y="122" width="1" height="5" fill="#ff0000"/>
<rect x="545" y="123" width="3" height="3" fill="#ff0000"/>
<rect x="546" y="124" width="1" height="1" fill="#ff4500"/>
<rect x="550" y="106" width="1" height="38" fill="#32cd32"/>
<rect x="549" y="123" width="3" height="16" fill="#32cd32"/>
<rect x="554" y="115" width="1" height="27" fill="#ff0000"/>
<rect x="553" y="124" width="3" height="15" fill="#ff0000"/>
<rect x="554" y="125" width="1" height="13" fill="#ff4500"/>
<rect x="558" y="113" width="1" height="29" fill="#32cd32"/>
<rect x="557" y="123" width="3" height="19" fill="#32cd32"/>
<rect x="562" y="125" width="1" height="43" fill="#32cd32"/>
<rect x="561" y="141" width="3" height="21" fill="#32cd32"/>
<rect x="566" y="158" width="1" height="71" fill="#32cd32"/>
<rect x="565" y="161" width="3" height="58" fill="#32cd32"/>
<rect x="570" y="207" width="1" height="17" fill="#ff0000"/>
<rect x="569" y="207" width="3" height="16" fill="#ff0000"/>
<rect x="570" y="208" width="1" height="14" fill="#ff4500"/>
<rect x="574" y="143" width="1" height="73" fill="#ff0000"/>
<rect x="573" y="157" width="3" height="52" fill="#ff0000"/>
<rect x="574" y="158" width="1" height="50" fill="#ff4500"/>
<rect x="578" y="150" width="1" height="54" fill="#32cd32"/>
<rect x="577" y="157" width="3" height="27" fill="#32cd32"/>
<rect x="582" y="150" width="1" height="41" fill="#ff0000"/>
<rect x="581" y="153" width="3" height="30" fill="#ff0000"/>
<rect x="582" y="154" width="1" height="28" fill="#ff4500"/>
<rect x="586" y="124" width="1" height="59" fill="#32cd32"/>
<rect x="585" y="153" width="3" height="17" fill="#32cd32"/>
<rect x="590" y="169" width="1" height="53" fill="#32cd32"/>
<rect x="589" y="169" width="3" height="53" fill="#32cd32"/>
<rect x="594" y="209" width="1" height="13" fill="#ff0000"/>
<rect x="593" y="214" width="3" height="4" fill="#ff0000"/>
<rect x="594" y="215" width="1" height="2" fill="#ff4500"/>
<rect x="598" y="187" width="1" height="48" fill="#ff0000"/>
<rect x="597" y="204" width="3" height="11" fill="#ff0000"/>
<rect x="598" y="205" width="1" height="9" fill="#ff4500"/>
<rect x="602" y="201" width="1" height="57" fill="#32cd32"/>
<rect x="601" y="202" width="3" height="50" fill="#32cd32"/>
<rect x="606" y="250" width="1" height="46" fill="#32cd32"/>
<rect x="605" y="251" width="3" height="41" fill="#32cd32"/>
<rect x="610" y="281" width="1" height="38" fill="#ff0000"/>
<rect x="609" y="288" width="3" height="4" fill="#ff0000"/>
<rect x="610" y="289" width="1" height="2" fill="#ff4500"/>
<rect x="614" y="255" width="1" height="54" fill="#ff0000"/>
<rect x="613" y="260" width="3" height="29" fill="#ff0000"/>
<rect x="614" y="261" width="1" height="27" fill="#ff4500"/>
<rect x="618" y="262" width="1" height="10" fill="#32cd32"/>
<rect x="617" y="269" width="3" height="2" fill="#32cd32"/>
<rect x="622" y="265" width="1" height="29" fill="#32cd32"/>
<rect x="621" y="270" width="3" height="15" fill="#32cd32"/>
<rect x="626" y="259" width="1" height="42" fill="#32cd32"/>
<rect x="625" y="284" width="3" height="11" fill="#32cd32"/>
<rect x="630" y="279" width="1" height="41" fill="#ff0000"/>
<rect x="629" y="287" width="3" height="8" fill="#ff0000"/>
<rect x="630" y="288" width="1" height="6" fill="#ff4500"/>
<rect x="634" y="284" width="1" height="35" fill="#32cd32"/>
<rect x="633" y="288" width="3" height="5" fill="#32cd32"/>
<rect x="638" y="253" width="1" height="42" fill="#ff0000"/>
<rect x="637" y="254" width="3" height="39" fill="#ff0000"/>
<rect x="638" y="255" width="1" height="37" fill="#ff4500"/>
<rect x="642" y="250" width="1" height="11" fill="#32cd32"/>
<rect x="641" y="252" width="3" height="9" fill="#32cd32"/>
<rect x="646" y="184" width="1" height="79" fill="#ff0000"/>
<rect x="645" y="225" width="3" height="35" fill="#ff0000"/>
<rect x="646" y="226" width="1" height="33" fill="#ff4500"/>
<rect x="650" y="202" width="1" height="39" fill="#32cd32"/>
<rect x="649" y="225" width="3" height="6" fill="#32cd32"/>
<rect x="654" y="192" width="1" height="70" fill="#ff0000"/>
<rect x="653" y="209" width="3" height="22" fill="#ff0000"/>
<rect x="654" y="210" width="1" height="20" fill="#ff4500"/>
<rect x="658" y="160" width="1" height="53" fill="#ff0000"/>
<rect x="657" y="160" width="3" height="49" fill="#ff0000"/>
<rect x="658" y="161" width="1" height="47" fill="#ff4500"/>
<rect x="662" y="133" width="1" height="46" fill="#ff0000"/>
<rect x="661" y="139" width="3" height="22" fill="#ff0000"/>
<rect x="662" y="140" width="1" height="20" fill="#ff4500"/>
<rect x="666" y="144" width="1" height="10" fill="#32cd32"/>
<rect x="665" y="150" width="3" height="4" fill="#32cd32"/>
<rect x="670" y="145" width="1" height="51" fill="#32cd32"/>
<rect x="669" y="153" width="3" height="24" fill="#32cd32"/>
<rect x="674" y="171" width="1" height="39" fill="#32cd32"/>
<rect x="673" y="176" width="3" height="16" fill="#32cd32"/>
<rect x="678" y="182" width="1" height="31" fill="#32cd32"/>
<rect x="677" y="191" width="3" height="2" fill="#32cd32"/>
<rect x="682" y="177" width="1" height="32" fill="#32cd32"/>
<rect x="681" y="193" width="3" height="5" fill="#32cd32"/>
<rect x="686" y="138" width="1" height="59" fill="#ff0000"/>
<rect x="685" y="158" width="3" height="39" fill="#ff0000"/>
<rect x="686" y="159" width="1" height="37" fill="#ff4500"/>
<rect x="690" y="158" width="1" height="4" fill="#32cd32"/>
<rect x="689" y="159" width="3" height="3" fill="#32cd32"/>
<rect x="694" y="155" width="1" height="54" fill="#32cd32"/>
<rect x="693" y="161" width="3" height="44" fill="#32cd32"/>
<rect x="698" y="174" width="1" height="32" fill="#ff0000"/>
<rect x="697" y="182" width="3" height="23" fill="#ff0000"/>
<rect x="698" y="183" width="1" height="21" fill="#ff4500"/>
<rect x="702" y="177" width="1" height="28" fill="#32cd32"/>
<rect x="701" y="182" width="3" height="17" fill="#32cd32"/>
<rect x="706" y="167" width="1" height="54" fill="#ff0000"/>
<rect x="705" y="167" width="3" height="32" fill="#ff0000"/>
<rect x="706" y="168" width="1" height="30" fill="#ff4500"/>
<rect x="710" y="158" width="1" height="45" fill="#ff0000"/>
<rect x="709" y="163" width="3" height="5" fill="#ff0000"/>
<rect x="710" y="164" width="1" height="3" fill="#ff4500"/>
<rect x="714" y="163" width="1" height="12" fill="#32cd32"/>
<rect x="713" y="167" width="3" height="6" fill="#32cd32"/>
<rect x="718" y="140" width="1" height="36" fill="#ff0000"/>
<rect x="717" y="170" width="3" height="3" fill="#ff0000"/>
<rect x="718" y="171" width="1" height="1" fill="#ff4500"/>
<rect x="722" y="146" width="1" height="40" fill="#32cd32"/>
<rect x="721" y="170" width="3" height="3" fill="#32cd32"/>
<rect x="726" y="172" width="1" height="34" fill="#32cd32"/>
<rect x="725" y="172" width="3" height="16" fill="#32cd32"/>
<rect x="730" y="167" width="1" height="32" fill="#ff0000"/>
<rect x="729" y="180" width="3" height="8" fill="#ff0000"/>
<rect x="730" y="181" width="1" height="6" fill="#ff4500"/>
<rect x="734" y="154" width="1" height="47" fill="#ff0000"/>
<rect x="733" y="162" width="3" height="20" fill="#ff0000"/>
<rect x="734" y="163" width="1" height="18" fill="#ff4500"/>
<rect x="738" y="153" width="1" height="7" fill="#ff0000"/>
<rect x="737" y="155" width="3" height="5" fill="#ff0000"/>
<rect x="738" y="156" width="1" height="3" fill="#ff4500"/>
<rect x="742" y="150" width="1" height="25" fill="#ff0000"/>
<rect x="741" y="155" width="3" height="2" fill="#ff0000"/>
<rect x="746" y="141" width="1" height="35" fill="#ff0000"/>
<rect x="745" y="149" width="3" height="7" fill="#ff0000"/>
<rect x="746" y="150" width="1" height="5" fill="#ff4500"/>
<rect x="750" y="149" width="1" height="47" fill="#32cd32"/>
<rect x="749" y="149" width="3" height="19" fill="#32cd32"/>
<rect x="754" y="90" width="1" height="78" fill="#ff0000"/>
<rect x="753" y="128" width="3" height="40" fill="#ff0000"/>
<rect x="754" y="129" width="1" height="38" fill="#ff4500"/>
<rect x="758" y="121" width="1" height="60" fill="#32cd32"/>
<rect x="757" y="128" width="3" height="53" fill="#32cd32"/>
<rect x="762" y="153" width="1" height="12" fill="#ff0000"/>
<rect x="761" y="156" width="3" height="3" fill="#ff0000"/>
<rect x="762" y="157" width="1" height="1" fill="#ff4500"/>
<rect x="766" y="127" width="1" height="81" fill="#32cd32"/>
<rect x="765" y="155" width="3" height="49" fill="#32cd32"/>
<rect x="770" y="158" width="1" height="53" fill="#ff0000"/>
<rect x="769" y="171" width="3" height="33" fill="#ff0000"/>
<rect x="770" y="172" width="1" height="31" fill="#ff4500"/>
<rect x="774" y="161" width="1" height="64" fill="#32cd32"/>
<rect x="773" y="171" width="3" height="44" fill="#32cd32"/>
<rect x="778" y="189" width="1" height="58" fill="#ff0000"/>
<rect x="777" y="201" width="3" height="14" fill="#ff0000"/>
<rect x="778" y="202" width="1" height="12" fill="#ff4500"/>
<rect x="782" y="136" width="1" height="67" fill="#ff0000"/>
<rect x="781" y="163" width="3" height="39" fill="#ff0000"/>
<rect x="782" y="164" width="1" height="37" fill="#ff4500"/>
<rect x="786" y="155" width="1" height="24" fill="#32cd32"/>
<rect x="785" y="168" width="3" height="10" fill="#32cd32"/>
<rect x="790" y="121" width="1" height="73" fill="#ff0000"/>
<rect x="789" y="132" width="3" height="46" fill="#ff0000"/>
<rect x="790" y="133" width="1" height="44" fill="#ff4500"/>
<rect x="794" y="78" width="1" height="57" fill="#ff0000"/>
<rect x="793" y="83" width="3" height="50" fill="#ff0000"/>
<rect x="794" y="84" width="1" height="48" fill="#ff4500"/>
<rect x="798" y="82" width="1" height="52" fill="#32cd32"/>
<rect x="797" y="83" width="3" height="50" fill="#32cd32"/>
<rect x="802" y="109" width="1" height="50" fill="#32cd32"/>
<rect x="801" y="132" width="3" height="24" fill="#32cd32"/>
<rect x="806" y="135" width="1" height="55" fill="#32cd32"/>
<rect x="805" y="156" width="3" height="17" fill="#32cd32"/>
<rect x="810" y="164" width="1" height="7" fill="#32cd32"/>
<rect x="809" y="164" width="3" height="3" fill="#32cd32"/>
<rect x="814" y="117" width="1" height="52" fill="#ff0000"/>
<rect x="813" y="120" width="3" height="46" fill="#ff0000"/>
<rect x="814" y="121" width="1" height="44" fill="#ff4500"/>
<rect x="818" y="93" width="1" height="60" fill="#32cd32"/>
<rect x="817" y="120" width="3" height="28" fill="#32cd32"/>
<rect x="822" y="144" width="1" height="56" fill="#32cd32"/>
<rect x="821" y="147" width="3" height="46" fill="#32cd32"/>
<rect x="826" y="186" width="1" height="47" fill="#32cd32"/>
<rect x="825" y="192" width="3" height="30" fill="#32cd32"/>
<rect x="830" y="214" width="1" height="29" fill="#32cd32"/>
<rect x="829" y="222" width="3" height="18" fill="#32cd32"/>
<rect x="834" y="236" width="1" height="6" fill="#ff0000"/>
<rect x="833" y="236" width="3" height="3" fill="#ff0000"/>
<rect x="834" y="237" width="1" height="1" fill="#ff4500"/>
<rect x="838" y="227" width="1" height="32" fill="#32cd32"/>
<rect x="837" y="236" width="3" height="10" fill="#32cd32"/>
<rect x="842" y="226" width="1" height="33" fill="#32cd32"/>
<rect x="841" y="245" width="3" height="4" fill="#32cd32"/>
<rect x="846" y="236" width="1" height="35" fill="#32cd32"/>
<rect x="845" y="248" width="3" height="14" fill="#32cd32"/>
<rect x="850" y="246" width="1" height="42" fill="#32cd32"/>
<rect x="849" y="261" width="3" height="21" fill="#32cd32"/>
<rect x="854" y="264" width="1" height="46" fill="#32cd32"/>
<rect x="853" y="281" width="3" height="27" fill="#32cd32"/>
<rect x="858" y="300" width="1" height="5" fill="#ff0000"/>
<rect x="857" y="300" width="3" height="2" fill="#ff0000"/>
<rect x="862" y="243" width="1" height="65" fill="#ff0000"/>
<rect x="861" y="281" width="3" height="20" fill="#ff0000"/>
<rect x="862" y="282" width="1" height="18" fill="#ff4500"/>
<rect x="866" y="277" width="1" height="33" fill="#32cd32"/>
<rect x="865" y="281" width="3" height="14" fill="#32cd32"/>
<rect x="870" y="288" width="1" height="43" fill="#32cd32"/>
<rect x="869" y="293" width="3" height="9" fill="#32cd32"/>
<rect x="874" y="275" width="1" height="38" fill="#ff0000"/>
<rect x="873" y="292" width="3" height="10" fill="#ff0000"/>
<rect x="874" y="293" width="1" height="8" fill="#ff4500"/>
<rect x="878" y="272" width="1" height="32" fill="#ff0000"/>
<rect x="877" y="287" width="3" height="6" fill="#ff0000"/>
<rect x="878" y="288" width="1" height="4" fill="#ff4500"/>
<rect x="882" y="278" width="1" height="4" fill="#ff0000"/>
<rect x="881" y="278" width="3" height="3" fill="#ff0000"/>
<rect x="882" y="279" width="1" height="1" fill="#ff4500"/>
<rect x="886" y="277" width="1" height="34" fill="#32cd32"/>
<rect x="885" y="278" width="3" height="23" fill="#32cd32"/>
<rect x="890" y="294" width="1" height="52" fill="#32cd32"/>
<rect x="889" y="299" width="3" height="3" fill="#32cd32"/>
<rect x="894" y="257" width="1" height="48" fill="#ff0000"/>
<rect x="893" y="258" width="3" height="44" fill="#ff0000"/>
<rect x="894" y="259" width="1" height="42" fill="#ff4500"/>
<rect x="898" y="233" width="1" height="40" fill="#ff0000"/>
<rect x="897" y="246" width="3" height="14" fill="#ff0000"/>
<rect x="898" y="247" width="1" height="12" fill="#ff4500"/>
<rect x="902" y="229" width="1" height="29" fill="#32cd32"/>
<rect x="901" y="246" width="3" height="11" fill="#32cd32"/>
<rect x="906" y="249" width="1" height="9" fill="#ff0000"/>
<rect x="905" y="249" width="3" height="8" fill="#ff0000"/>
<rect x="906" y="250" width="1" height="6" fill="#ff4500"/>
<rect x="910" y="215" width="1" height="40" fill="#ff0000"/>
<rect x="909" y="217" width="3" height="33" fill="#ff0000"/>
<rect x="910" y="218" width="1" height="31" fill="#ff4500"/>
<rect x="914" y="206" width="1" height="44" fill="#32cd32"/>
<rect x="913" y="217" width="3" height="6" fill="#32cd32"/>
<rect x="918" y="198" width="1" height="66" fill="#32cd32"/>
<rect x="917" y="220" width="3" height="37" fill="#32cd32"/>
<rect x="922" y="217" width="1" height="65" fill="#ff0000"/>
<rect x="921" y="235" width="3" height="22" fill="#ff0000"/>
<rect x="922" y="236" width="1" height="20" fill="#ff4500"/>
</g>
<g id="macd">
<rect x="1" y="423" width="3" height="35" fill="#c0c0c0"/>
<rect x="5" y="426" width="3" height="32" fill="#c0c0c0"/>
<rect x="9" y="428" width="3" height="30" fill="#c0c0c0"/>
<rect x="13" y="430" width="3" height="28" fill="#c0c0c0"/>
<rect x="17" y="432" width="3" height="26" fill="#c0c0c0"/>
<rect x="21" y="434" width="3" height="24" fill="#c0c0c0"/>
<rect x="25" y="435" width="3" height="23" fill="#c0c0c0"/>
<rect x="29" y="438" width="3" height="20" fill="#c0c0c0"/>
<rect x="33" y="443" width="3" height="15" fill="#c0c0c0"/>
<rect x="37" y="446" width="3" height="12" fill="#c0c0c0"/>
<rect x="41" y="449" width="3" height="9" fill="#c0c0c0"/>
<rect x="45" y="450" width="3" height="8" fill="#c0c0c0"/>
<rect x="49" y="450" width="3" height="8" fill="#c0c0c0"/>
<rect x="53" y="450" width="3" height="8" fill="#c0c0c0"/>
<rect x="57" y="451" width="3" height="7" fill="#c0c0c0"/>
<rect x="61" y="451" width="3" height="7" fill="#c0c0c0"/>
<rect x="65" y="450" width="3" height="8" fill="#c0c0c0"/>
<rect x="69" y="451" width="3" height="7" fill="#c0c0c0"/>
<rect x="73" y="451" width="3" height="7" fill="#c0c0c0"/>
<rect x="77" y="452" width="3" height="6" fill="#c0c0c0"/>
<rect x="81" y="453" width="3" height="5" fill="#c0c0c0"/>
<rect x="85" y="454" width="3" height="4" fill="#c0c0c0"/>
<rect x="89" y="454" width="3" height="4" fill="#c0c0c0"/>
<rect x="93" y="453" width="3" height="5" fill="#c0c0c0"/>
<rect x="97" y="451" width="3" height="7" fill="#c0c0c0"/>
<rect x="101" y="448" width="3" height="10" fill="#c0c0c0"/>
<rect x="105" y="442" width="3" height="16" fill="#c0c0c0"/>
<rect x="109" y="436" width="3" height="22" fill="#c0c0c0"/>
<rect x="113" y="433" width="3" height="25" fill="#c0c0c0"/>
<rect x="117" y="435" width="3" height="23" fill="#c0c0c0"/>
<rect x="121" y="439" width="3" height="19" fill="#c0c0c0"/>
<rect x="125" y="442" width="3" height="16" fill="#c0c0c0"/>
<rect x="129" y="441" width="3" height="17" fill="#c0c0c0"/>
<rect x="133" y="444" width="3" height="14" fill="#c0c0c0"/>
<rect x="137" y="446" width="3" height="12" fill="#c0c0c0"/>
<rect x="141" y="448" width="3" height="10" fill="#c0c0c0"/>
<rect x="145" y="449" width="3" height="9" fill="#c0c0c0"/>
<rect x="149" y="451" width="3" height="7" fill="#c0c0c0"/>
<rect x="153" y="454" width="3" height="4" fill="#c0c0c0"/>
<rect x="157" y="456" width="3" height="2" fill="#c0c0c0"/>
<rect x="161" y="458" width="3" height="2" fill="#c0c0c0"/>
<rect x="165" y="458" width="3" height="3" fill="#c0c0c0"/>
<rect x="169" y="458" width="3" height="1" fill="#c0c0c0"/>
<rect x="173" y="455" width="3" height="3" fill="#c0c0c0"/>
<rect x="177" y="454" width="3" height="4" fill="#c0c0c0"/>
<rect x="181" y="453" width="3" height="5" fill="#c0c0c0"/>
<rect x="185" y="453" width="3" height="5" fill="#c0c0c0"/>
<rect x="189" y="452" width="3" height="6" fill="#c0c0c0"/>
<rect x="193" y="452" width="3" height="6" fill="#c0c0c0"/>
<rect x="197" y="452" width="3" height="6" fill="#c0c0c0"/>
<rect x="201" y="451" width="3" height="7" fill="#c0c0c0"/>
<rect x="205" y="450" width="3" height="8" fill="#c0c0c0"/>
<rect x="209" y="447" width="3" height="11" fill="#c0c0c0"/>
<rect x="213" y="444" width="3" height="14" fill="#c0c0c0"/>
<rect x="217" y="442" width="3" height="16" fill="#c0c0c0"/>
<rect x="221" y="441" width="3" height="17" fill="#c0c0c0"/>
<rect x="225" y="444" width="3" height="14" fill="#c0c0c0"/>
<rect x="229" y="447" width="3" height="11" fill="#c0c0c0"/>
<rect x="233" y="449" width="3" height="9" fill="#c0c0c0"/>
<rect x="237" y="452" width="3" height="6" fill="#c0c0c0"/>
<rect x="241" y="452" width="3" height="6" fill="#c0c0c0"/>
<rect x="245" y="451" width="3" height="7" fill="#c0c0c0"/>
<rect x="249" y="452" width="3" height="6" fill="#c0c0c0"/>
<rect x="253" y="454" width="3" height="4" fill="#c0c0c0"/>
<rect x="257" y="456" width="3" height="2" fill="#c0c0c0"/>
<rect x="261" y="458" width="3" height="1" fill="#c0c0c0"/>
<rect x="265" y="458" width="3" height="4" fill="#c0c0c0"/>
<rect x="269" y="458" width="3" height="5" fill="#c0c0c0"/>
<rect x="273" y="458" width="3" height="8" fill="#c0c0c0"/>
<rect x="277" y="458" width="3" height="12" fill="#c0c0c0"/>
<rect x="281" y="458" width="3" height="13" fill="#c0c0c0"/>
<rect x="285" y="458" width="3" height="15" fill="#c0c0c0"/>
<rect x="289" y="458" width="3" height="17" fill="#c0c0c0"/>
<rect x="293" y="458" width="3" height="19" fill="#c0c0c0"/>
<rect x="297" y="458" width="3" height="22" fill="#c0c0c0"/>
<rect x="301" y="458" width="3" height="24" fill="#c0c0c0"/>
<rect x="305" y="458" width="3" height="26" fill="#c0c0c0"/>
<rect x="309" y="458" width="3" height="27" fill="#c0c0c0"/>
<rect x="313" y="458" width="3" height="28" fill="#c0c0c0"/>
<rect x="317" y="458" width="3" height="29" fill="#c0c0c0"/>
<rect x="321" y="458" width="3" height="29" fill="#c0c0c0"/>
<rect x="325" y="458" width="3" height="28" fill="#c0c0c0"/>
<rect x="329" y="458" width="3" height="27" fill="#c0c0c0"/>
<rect x="333" y="458" width="3" height="26" fill="#c0c0c0"/>
<rect x="337" y="458" width="3" height="25" fill="#c0c0c0"/>
<rect x="341" y="458" width="3" height="24" fill="#c0c0c0"/>
<rect x="345" y="458" width="3" height="23" fill="#c0c0c0"/>
<rect x="349" y="458" width="3" height="21" fill="#c0c0c0"/>
<rect x="353" y="458" width="3" height="20" fill="#c0c0c0"/>
<rect x="357" y="458" width="3" height="19" fill="#c0c0c0"/>
<rect x="361" y="458" width="3" height="17" fill="#c0c0c0"/>
<rect x="365" y="458" width="3" height="16" fill="#c0c0c0"/>
<rect x="369" y="458" width="3" height="13" fill="#c0c0c0"/>
<rect x="373" y="458" width="3" height="11" fill="#c0c0c0"/>
<rect x="377" y="458" width="3" height="8" fill="#c0c0c0"/>
<rect x="381" y="458" width="3" height="7" fill="#c0c0c0"/>
<rect x="385" y="458" width="3" height="6" fill="#c0c0c0"/>
<rect x="389" y="458" width="3" height="4" fill="#c0c0c0"/>
<rect x="393" y="456" width="3" height="2" fill="#c0c0c0"/>
<rect x="397" y="453" width="3" height="5" fill="#c0c0c0"/>
<rect x="401" y="452" width="3" height="6" fill="#c0c0c0"/>
<rect x="405" y="451" width="3" height="7" fill="#c0c0c0"/>
<rect x="409" y="449" width="3" height="9" fill="#c0c0c0"/>
<rect x="413" y="447" width="3" height="11" fill="#c0c0c0"/>
<rect x="417" y="445" width="3" height="13" fill="#c0c0c0"/>
<rect x="421" y="442" width="3" height="16" fill="#c0c0c0"/>
<rect x="425" y="441" width="3" height="17" fill="#c0c0c0"/>
<rect x="429" y="438" width="3" height="20" fill="#c0c0c0"/>
<rect x="433" y="437" width="3" height="21" fill="#c0c0c0"/>
<rect x="437" y="437" width="3" height="21" fill="#c0c0c0"/>
<rect x="441" y="437" width="3" height="21" fill="#c0c0c0"/>
<rect x="445" y="434" width="3" height="24" fill="#c0c0c0"/>
<rect x="449" y="433" width="3" height="25" fill="#c0c0c0"/>
<rect x="453" y="433" width="3" height="25" fill="#c0c0c0"/>
<rect x="457" y="432" width="3" height="26" fill="#c0c0c0"/>
<rect x="461" y="430" width="3" height="28" fill="#c0c0c0"/>
<rect x="465" y="429" width="3" height="29" fill="#c0c0c0"/>
<rect x="469" y="428" width="3" height="30" fill="#c0c0c0"/>
<rect x="473" y="428" width="3" height="30" fill="#c0c0c0"/>
<rect x="477" y="430" width="3" height="28" fill="#c0c0c0"/>
<rect x="481" y="435" width="3" height="23" fill="#c0c0c0"/>
<rect x="485" y="439" width="3" height="19" fill="#c0c0c0"/>
<rect x="489" y="441" width="3" height="17" fill="#c0c0c0"/>
<rect x="493" y="442" width="3" height="16" fill="#c0c0c0"/>
<rect x="497" y="443" width="3" height="15" fill="#c0c0c0"/>
<rect x="501" y="442" width="3" height="16" fill="#c0c0c0"/>
<rect x="505" y="439" width="3" height="19" fill="#c0c0c0"/>
<rect x="509" y="438" width="3" height="20" fill="#c0c0c0"/>
<rect x="513" y="439" width="3" height="19" fill="#c0c0c0"/>
<rect x="517" y="438" width="3" height="20" fill="#c0c0c0"/>
<rect x="521" y="436" width="3" height="22" fill="#c0c0c0"/>
<rect x="525" y="434" width="3" height="24" fill="#c0c0c0"/>
<rect x="529" y="433" width="3" height="25" fill="#c0c0c0"/>
<rect x="533" y="434" width="3" height="24" fill="#c0c0c0"/>
<rect x="537" y="437" width="3" height="21" fill="#c0c0c0"/>
<rect x="541" y="439" width="3" height="19" fill="#c0c0c0"/>
<rect x="545" y="441" width="3" height="17" fill="#c0c0c0"/>
<rect x="549" y="443" width="3" height="15" fill="#c0c0c0"/>
<rect x="553" y="445" width="3" height="13" fill="#c0c0c0"/>
<rect x="557" y="447" width="3" height="11" fill="#c0c0c0"/>
<rect x="561" y="450" width="3" height="8" fill="#c0c0c0"/>
<rect x="565" y="455" width="3" height="3" fill="#c0c0c0"/>
<rect x="569" y="458" width="3" height="2" fill="#c0c0c0"/>
<rect x="573" y="458" width="3" height="2" fill="#c0c0c0"/>
<rect x="577" y="458" width="3" height="3" fill="#c0c0c0"/>
<rect x="581" y="458" width="3" height="3" fill="#c0c0c0"/>
<rect x="585" y="458" width="3" height="3" fill="#c0c0c0"/>
<rect x="589" y="458" width="3" height="6" fill="#c0c0c0"/>
<rect x="593" y="458" width="3" height="8" fill="#c0c0c0"/>
<rect x="597" y="458" width="3" height="9" fill="#c0c0c0"/>
<rect x="601" y="458" width="3" height="12" fill="#c0c0c0"/>
<rect x="605" y="458" width="3" height="17" fill="#c0c0c0"/>
<rect x="609" y="458" width="3" height="20" fill="#c0c0c0"/>
<rect x="613" y="458" width="3" height="21" fill="#c0c0c0"/>
<rect x="617" y="458" width="3" height="22" fill="#c0c0c0"/>
<rect x="621" y="458" width="3" height="23" fill="#c0c0c0"/>
<rect x="625" y="458" width="3" height="24" fill="#c0c0c0"/>
<rect x="629" y="458" width="3" height="24" fill="#c0c0c0"/>
<rect x="633" y="458" width="3" height="25" fill="#c0c0c0"/>
<rect x="637" y="458" width="3" height="22" fill="#c0c0c0"/>
<rect x="641" y="458" width="3" height="21" fill="#c0c0c0"/>
<rect x="645" y="458" width="3" height="18" fill="#c0c0c0"/>
<rect x="649" y="458" width="3" height="15" fill="#c0c0c0"/>
<rect x="653" y="458" width="3" height="12" fill="#c0c0c0"/>
<rect x="657" y="458" width="3" height="7" fill="#c0c0c0"/>
<rect x="661" y="458" width="3" height="1" fill="#c0c0c0"/>
<rect x="665" y="455" width="3" height="3" fill="#c0c0c0"/>
<rect x="669" y="454" width="3" height="4" fill="#c0c0c0"/>
<rect x="673" y="453" width="3" height="5" fill="#c0c0c0"/>
<rect x="677" y="453" width="3" height="5" fill="#c0c0c0"/>
<rect x="681" y="453" width="3" height="5" fill="#c0c0c0"/>
<rect x="685" y="452" width="3" height="6" fill="#c0c0c0"/>
<rect x="689" y="450" width="3" height="8" fill="#c0c0c0"/>
<rect x="693" y="452" width="3" height="6" fill="#c0c0c0"/>
<rect x="697" y="452" width="3" height="6" fill="#c0c0c0"/>
<rect x="701" y="452" width="3" height="6" fill="#c0c0c0"/>
<rect x="705" y="451" width="3" height="7" fill="#c0c0c0"/>
<rect x="709" y="451" width="3" height="7" fill="#c0c0c0"/>
<rect x="713" y="451" width="3" height="7" fill="#c0c0c0"/>
<rect x="717" y="450" width="3" height="8" fill="#c0c0c0"/>
<rect x="721" y="451" width="3" height="7" fill="#c0c0c0"/>
<rect x="725" y="452" width="3" height="6" fill="#c0c0c0"/>
<rect x="729" y="452" width="3" height="6" fill="#c0c0c0"/>
<rect x="733" y="452" width="3" height="6" fill="#c0c0c0"/>
<rect x="737" y="451" width="3" height="7" fill="#c0c0c0"/>
<rect x="741" y="450" width="3" height="8" fill="#c0c0c0"/>
<rect x="745" y="450" width="3" height="8" fill="#c0c0c0"/>
<rect x="749" y="450" width="3" height="8" fill="#c0c0c0"/>
<rect x="753" y="449" width="3" height="9" fill="#c0c0c0"/>
<rect x="757" y="451" width="3" height="7" fill="#c0c0c0"/>
<rect x="761" y="452" width="3" height="6" fill="#c0c0c0"/>
<rect x="765" y="453" width="3" height="5" fill="#c0c0c0"/>
<rect x="769" y="454" width="3" height="4" fill="#c0c0c0"/>
<rect x="773" y="457" width="3" height="1" fill="#c0c0c0"/>
<rect x="777" y="458" width="3" height="1" fill="#c0c0c0"/>
<rect x="781" y="458" width="3" height="1" fill="#c0c0c0"/>
<rect x="785" y="457" width="3" height="1" fill="#c0c0c0"/>
<rect x="789" y="455" width="3" height="3" fill="#c0c0c0"/>
<rect x="793" y="450" width="3" height="8" fill="#c0c0c0"/>
<rect x="797" y="450" width="3" height="8" fill="#c0c0c0"/>
<rect x="801" y="450" width="3" height="8" fill="#c0c0c0"/>
<rect x="805" y="452" width="3" height="6" fill="#c0c0c0"/>
<rect x="809" y="453" width="3" height="5" fill="#c0c0c0"/>
<rect x="813" y="451" width="3" height="7" fill="#c0c0c0"/>
<rect x="817" y="451" width="3" height="7" fill="#c0c0c0"/>
<rect x="821" y="454" width="3" height="4" fill="#c0c0c0"/>
<rect x="825" y="458" width="3" height="1" fill="#c0c0c0"/>
<rect x="829" y="458" width="3" height="4" fill="#c0c0c0"/>
<rect x="833" y="458" width="3" height="7" fill="#c0c0c0"/>
<rect x="837" y="458" width="3" height="10" fill="#c0c0c0"/>
<rect x="841" y="458" width="3" height="12" fill="#c0c0c0"/>
<rect x="845" y="458" width="3" height="14" fill="#c0c0c0"/>
<rect x="849" y="458" width="3" height="17" fill="#c0c0c0"/>
<rect x="853" y="458" width="3" height="20" fill="#c0c0c0"/>
<rect x="857" y="458" width="3" height="22" fill="#c0c0c0"/>
<rect x="861" y="458" width="3" height="22" fill="#c0c0c0"/>
<rect x="865" y="458" width="3" height="23" fill="#c0c0c0"/>
<rect x="869" y="458" width="3" height="23" fill="#c0c0c0"/>
<rect x="873" y="458" width="3" height="23" fill="#c0c0c0"/>
<rect x="877" y="458" width="3" height="21" fill="#c0c0c0"/>
<rect x="881" y="458" width="3" height="21" fill="#c0c0c0"/>
<rect x="885" y="458" width="3" height="21" fill="#c0c0c0"/>
<rect x="889" y="458" width="3" height="20" fill="#c0c0c0"/>
<rect x="893" y="458" width="3" height="18" fill="#c0c0c0"/>
<rect x="897" y="458" width="3" height="15" fill="#c0c0c0"/>
<rect x="901" y="458" width="3" height="13" fill="#c0c0c0"/>
<rect x="905" y="458" width="3" height="11" fill="#c0c0c0"/>
<rect x="909" y="458" width="3" height="8" fill="#c0c0c0"/>
<rect x="913" y="458" width="3" height="5" fill="#c0c0c0"/>
<rect x="917" y="458" width="3" height="4" fill="#c0c0c0"/>
<rect x="921" y="458" width="3" height="3" fill="#c0c0c0"/>
<path d="M8 428h16v1h-16zM5 429h3v1h-3zM24 429h4v1h-4zM3 430h2v1h-2zM28 430h4v1h-4zM32 431h3v1h-3zM469 431h19v1h-19zM467 432h2v1h-2zM488 432h4v1h-4zM36 433h2v1h-2zM464 433h3v1h-3zM492 433h4v1h-4zM460 434h4v1h-4zM496 434h3v1h-3zM456 435h4v1h-4zM499 435h2v1h-2zM40 436h2v1h-2zM453 436h3v1h-3zM501 436h3v1h-3zM451 437h2v1h-2zM504 437h4v1h-4zM532 437h24v1h-24zM43 438h2v1h-2zM448 438h3v1h-3zM508 438h3v1h-3zM528 438h4v1h-4zM556 438h3v1h-3zM45 439h2v1h-2zM445 439h3v1h-3zM511 439h2v1h-2zM524 439h4v1h-4zM559 439h2v1h-2zM47 440h2v1h-2zM128 440h12v1h-12zM443 440h2v1h-2zM513 440h11v1h-11zM561 440h2v1h-2zM49 441h2v1h-2zM125 441h3v1h-3zM140 441h3v1h-3zM441 441h2v1h-2zM123 442h2v1h-2zM439 442h2v1h-2zM564 442h2v1h-2zM52 443h2v1h-2zM121 443h2v1h-2zM144 443h2v1h-2zM436 443h3v1h-3zM119 444h2v1h-2zM433 444h3v1h-3zM567 444h2v1h-2zM55 445h2v1h-2zM117 445h2v1h-2zM147 445h2v1h-2zM431 445h2v1h-2zM569 445h2v1h-2zM57 446h3v1h-3zM115 446h2v1h-2zM149 446h2v1h-2zM228 446h16v1h-16zM429 446h2v1h-2zM60 447h3v1h-3zM113 447h2v1h-2zM151 447h2v1h-2zM220 447h8v1h-8zM244 447h4v1h-4zM427 447h2v1h-2zM572 447h2v1h-2zM63 448h2v1h-2zM111 448h2v1h-2zM153 448h2v1h-2zM216 448h4v1h-4zM248 448h4v1h-4zM65 449h3v1h-3zM108 449h3v1h-3zM155 449h2v1h-2zM212 449h4v1h-4zM252 449h4v1h-4zM424 449h2v1h-2zM575 449h2v1h-2zM68 450h8v1h-8zM105 450h3v1h-3zM157 450h3v1h-3zM208 450h4v1h-4zM256 450h3v1h-3zM577 450h2v1h-2zM76 451h8v1h-8zM103 451h2v1h-2zM160 451h4v1h-4zM204 451h4v1h-4zM259 451h2v1h-2zM421 451h2v1h-2zM579 451h2v1h-2zM708 451h16v1h-16zM736 451h36v1h-36zM84 452h19v1h-19zM164 452h3v1h-3zM200 452h4v1h-4zM261 452h3v1h-3zM419 452h2v1h-2zM581 452h2v1h-2zM696 452h12v1h-12zM724 452h12v1h-12zM772 452h8v1h-8zM816 452h12v1h-12zM167 453h2v1h-2zM196 453h4v1h-4zM264 453h3v1h-3zM416 453h3v1h-3zM583 453h2v1h-2zM693 453h3v1h-3zM780 453h4v1h-4zM812 453h4v1h-4zM828 453h3v1h-3zM169 454h7v1h-7zM192 454h4v1h-4zM267 454h2v1h-2zM413 454h3v1h-3zM585 454h2v1h-2zM691 454h2v1h-2zM784 454h4v1h-4zM792 454h20v1h-20zM831 454h2v1h-2zM176 455h8v1h-8zM188 455h4v1h-4zM269 455h2v1h-2zM411 455h2v1h-2zM587 455h2v1h-2zM689 455h2v1h-2zM788 455h4v1h-4zM833 455h2v1h-2zM184 456h4v1h-4zM271 456h2v1h-2zM589 456h2v1h-2zM687 456h2v1h-2zM835 456h2v1h-2zM273 457h2v1h-2zM408 457h2v1h-2zM591 457h2v1h-2zM685 457h2v1h-2zM837 457h2v1h-2zM275 458h2v1h-2zM593 458h2v1h-2zM683 458h2v1h-2zM839 458h2v1h-2zM277 459h2v1h-2zM405 459h2v1h-2zM841 459h2v1h-2zM279 460h2v1h-2zM403 460h2v1h-2zM596 460h2v1h-2zM680 460h2v1h-2zM843 460h2v1h-2zM281 461h2v1h-2zM845 461h2v1h-2zM283 462h2v1h-2zM400 462h2v1h-2zM599 462h2v1h-2zM677 462h2v1h-2zM847 462h2v1h-2zM285 463h2v1h-2zM601 463h3v1h-3zM675 463h2v1h-2zM849 463h2v1h-2zM396 464h3v1h-3zM604 464h3v1h-3zM288 465h2v1h-2zM393 465h3v1h-3zM607 465h2v1h-2zM672 465h2v1h-2zM852 465h2v1h-2zM391 466h2v1h-2zM609 466h2v1h-2zM291 467h2v1h-2zM389 467h2v1h-2zM611 467h2v1h-2zM293 468h2v1h-2zM387 468h2v1h-2zM613 468h2v1h-2zM668 468h2v1h-2zM856 468h2v1h-2zM921 468h2v1h-2zM295 469h2v1h-2zM385 469h2v1h-2zM615 469h2v1h-2zM919 469h2v1h-2zM297 470h2v1h-2zM383 470h2v1h-2zM617 470h2v1h-2zM859 470h2v1h-2zM917 470h2v1h-2zM381 471h2v1h-2zM619 471h2v1h-2zM664 471h2v1h-2zM861 471h2v1h-2zM915 471h2v1h-2zM300 472h2v1h-2zM379 472h2v1h-2zM621 472h2v1h-2zM863 472h2v1h-2zM913 472h2v1h-2zM377 473h2v1h-2zM623 473h2v1h-2zM661 473h2v1h-2zM865 473h2v1h-2zM911 473h2v1h-2zM303 474h2v1h-2zM375 474h2v1h-2zM625 474h2v1h-2zM659 474h2v1h-2zM867 474h2v1h-2zM909 474h2v1h-2zM305 475h2v1h-2zM372 475h3v1h-3zM627 475h2v1h-2zM657 475h2v1h-2zM869 475h3v1h-3zM907 475h2v1h-2zM307 476h2v1h-2zM369 476h3v1h-3zM629 476h3v1h-3zM655 476h2v1h-2zM872 476h3v1h-3zM904 476h3v1h-3zM309 477h2v1h-2zM367 477h2v1h-2zM632 477h3v1h-3zM653 477h2v1h-2zM875 477h2v1h-2zM900 477h4v1h-4zM311 478h2v1h-2zM364 478h3v1h-3zM635 478h2v1h-2zM651 478h2v1h-2zM877 478h7v1h-7zM896 478h4v1h-4zM313 479h3v1h-3zM360 479h4v1h-4zM637 479h14v1h-14zM884 479h12v1h-12zM316 480h3v1h-3zM356 480h4v1h-4zM319 481h2v1h-2zM352 481h4v1h-4zM321 482h3v1h-3zM348 482h4v1h-4zM324 483h4v1h-4zM344 483h4v1h-4zM328 484h16v1h-16zM2 431h1v1h-1zM35 432h1v1h-1zM38 434h1v1h-1zM39 435h1v1h-1zM42 437h1v1h-1zM51 442h1v1h-1zM54 444h1v1h-1zM143 442h1v1h-1zM146 444h1v1h-1zM287 464h1v1h-1zM290 466h1v1h-1zM299 471h1v1h-1zM302 473h1v1h-1zM399 463h1v1h-1zM402 461h1v1h-1zM407 458h1v1h-1zM410 456h1v1h-1zM423 450h1v1h-1zM426 448h1v1h-1zM563 441h1v1h-1zM566 443h1v1h-1zM571 446h1v1h-1zM574 448h1v1h-1zM595 459h1v1h-1zM598 461h1v1h-1zM663 472h1v1h-1zM666 470h1v1h-1zM667 469h1v1h-1zM670 467h1v1h-1zM671 466h1v1h-1zM674 464h1v1h-1zM679 461h1v1h-1zM682 459h1v1h-1zM851 464h1v1h-1zM854 466h1v1h-1zM855 467h1v1h-1zM858 469h1v1h-1z" fill="#ff0000"/>
</g>
<g id="rsi">
<line x1="3" y1="515.5" x2="1164" y2="515.5" stroke="#c0c0c0" stroke-width="1" stroke-dasharray="3 3"/>
<line x1="3" y1="544.5" x2="1164" y2="544.5" stroke="#c0c0c0" stroke-width="1" stroke-dasharray="3 3"/>
<path d="M108 511h3v1h-3zM106 512h2v1h-2zM112 513h2v1h-2zM468 513h3v1h-3zM429 514h2v1h-2zM461 514h7v1h-7zM427 515h2v1h-2zM459 515h2v1h-2zM422 516h5v1h-5zM432 516h2v1h-2zM456 516h3v1h-3zM420 517h2v1h-2zM453 517h3v1h-3zM524 517h3v1h-3zM101 518h2v1h-2zM435 518h2v1h-2zM440 518h3v1h-3zM451 518h2v1h-2zM505 518h2v1h-2zM521 518h3v1h-3zM527 518h2v1h-2zM99 519h2v1h-2zM216 519h3v1h-3zM413 519h6v1h-6zM437 519h3v1h-3zM503 519h2v1h-2zM519 519h2v1h-2zM529 519h2v1h-2zM212 520h4v1h-4zM411 520h2v1h-2zM508 520h2v1h-2zM660 520h3v1h-3zM210 521h2v1h-2zM220 521h2v1h-2zM398 521h2v1h-2zM658 521h2v1h-2zM208 522h2v1h-2zM400 522h3v1h-3zM408 522h2v1h-2zM664 522h2v1h-2zM792 522h2v1h-2zM173 523h3v1h-3zM403 523h2v1h-2zM512 523h2v1h-2zM686 523h2v1h-2zM744 523h3v1h-3zM6 524h13v1h-13zM24 524h2v1h-2zM171 524h2v1h-2zM176 524h3v1h-3zM405 524h2v1h-2zM667 524h2v1h-2zM688 524h3v1h-3zM736 524h8v1h-8zM19 525h2v1h-2zM65 525h6v1h-6zM179 525h2v1h-2zM184 525h4v1h-4zM192 525h3v1h-3zM204 525h2v1h-2zM669 525h3v1h-3zM709 525h2v1h-2zM733 525h3v1h-3zM748 525h2v1h-2zM910 525h2v1h-2zM21 526h2v1h-2zM52 526h3v1h-3zM63 526h2v1h-2zM181 526h3v1h-3zM188 526h4v1h-4zM493 526h6v1h-6zM536 526h2v1h-2zM672 526h3v1h-3zM707 526h2v1h-2zM711 526h2v1h-2zM716 526h7v1h-7zM731 526h2v1h-2zM908 526h2v1h-2zM912 526h3v1h-3zM49 527h3v1h-3zM61 527h2v1h-2zM201 527h2v1h-2zM372 527h4v1h-4zM491 527h2v1h-2zM538 527h9v1h-9zM553 527h2v1h-2zM675 527h2v1h-2zM680 527h3v1h-3zM697 527h2v1h-2zM705 527h2v1h-2zM713 527h3v1h-3zM729 527h2v1h-2zM799 527h2v1h-2zM816 527h2v1h-2zM47 528h2v1h-2zM56 528h2v1h-2zM59 528h2v1h-2zM88 528h3v1h-3zM199 528h2v1h-2zM370 528h2v1h-2zM376 528h4v1h-4zM547 528h2v1h-2zM551 528h2v1h-2zM555 528h2v1h-2zM677 528h3v1h-3zM695 528h2v1h-2zM699 528h2v1h-2zM703 528h2v1h-2zM724 528h2v1h-2zM727 528h2v1h-2zM760 528h3v1h-3zM782 528h5v1h-5zM801 528h2v1h-2zM45 529h2v1h-2zM74 529h2v1h-2zM80 529h8v1h-8zM124 529h3v1h-3zM134 529h17v1h-17zM380 529h7v1h-7zM488 529h2v1h-2zM549 529h2v1h-2zM557 529h2v1h-2zM646 529h2v1h-2zM701 529h2v1h-2zM758 529h2v1h-2zM780 529h2v1h-2zM803 529h2v1h-2zM808 529h3v1h-3zM897 529h2v1h-2zM904 529h2v1h-2zM921 529h2v1h-2zM43 530h2v1h-2zM76 530h4v1h-4zM122 530h2v1h-2zM226 530h10v1h-10zM483 530h2v1h-2zM580 530h2v1h-2zM648 530h3v1h-3zM768 530h2v1h-2zM805 530h3v1h-3zM820 530h2v1h-2zM895 530h2v1h-2zM899 530h2v1h-2zM919 530h2v1h-2zM36 531h7v1h-7zM236 531h7v1h-7zM251 531h2v1h-2zM485 531h2v1h-2zM560 531h2v1h-2zM575 531h2v1h-2zM584 531h2v1h-2zM901 531h2v1h-2zM34 532h2v1h-2zM253 532h7v1h-7zM577 532h2v1h-2zM776 532h2v1h-2zM164 533h3v1h-3zM260 533h3v1h-3zM638 533h5v1h-5zM824 533h2v1h-2zM155 534h2v1h-2zM160 534h4v1h-4zM263 534h2v1h-2zM363 534h2v1h-2zM596 534h3v1h-3zM157 535h3v1h-3zM265 535h6v1h-6zM365 535h2v1h-2zM592 535h4v1h-4zM827 535h2v1h-2zM353 536h3v1h-3zM569 536h2v1h-2zM590 536h2v1h-2zM829 536h7v1h-7zM880 536h3v1h-3zM272 537h2v1h-2zM351 537h2v1h-2zM356 537h3v1h-3zM567 537h2v1h-2zM614 537h2v1h-2zM836 537h11v1h-11zM876 537h4v1h-4zM883 537h2v1h-2zM888 537h3v1h-3zM336 538h3v1h-3zM616 538h4v1h-4zM632 538h3v1h-3zM862 538h2v1h-2zM873 538h3v1h-3zM885 538h3v1h-3zM281 539h10v1h-10zM333 539h3v1h-3zM339 539h2v1h-2zM348 539h2v1h-2zM620 539h4v1h-4zM628 539h4v1h-4zM848 539h2v1h-2zM864 539h4v1h-4zM871 539h2v1h-2zM276 540h2v1h-2zM279 540h2v1h-2zM331 540h2v1h-2zM341 540h3v1h-3zM604 540h2v1h-2zM624 540h4v1h-4zM850 540h2v1h-2zM868 540h3v1h-3zM292 541h2v1h-2zM322 541h9v1h-9zM344 541h3v1h-3zM606 541h5v1h-5zM852 541h4v1h-4zM856 542h3v1h-3zM296 544h2v1h-2zM300 544h15v1h-15zM298 545h2v1h-2zM315 545h2v1h-2zM317 546h2v1h-2zM2 517h1v1h-1zM3 518h1v2h-1zM4 520h1v2h-1zM5 522h1v2h-1zM23 525h1v1h-1zM26 523h1v1h-1zM27 524h1v1h-1zM28 525h1v2h-1zM29 527h1v1h-1zM30 528h1v1h-1zM31 529h1v1h-1zM32 530h1v1h-1zM33 531h1v1h-1zM55 527h1v1h-1zM58 529h1v1h-1zM71 526h1v1h-1zM72 527h1v1h-1zM73 528h1v1h-1zM91 527h1v1h-1zM92 526h1v1h-1zM93 525h1v1h-1zM94 524h1v1h-1zM95 523h1v1h-1zM96 522h1v1h-1zM97 521h1v1h-1zM98 520h1v1h-1zM103 516h1v2h-1zM104 515h1v1h-1zM105 513h1v2h-1zM111 512h1v1h-1zM114 514h1v2h-1zM115 516h1v3h-1zM116 519h1v2h-1zM117 521h1v3h-1zM118 524h1v2h-1zM119 526h1v1h-1zM120 527h1v2h-1zM121 529h1v1h-1zM127 528h1v1h-1zM128 527h1v1h-1zM129 526h1v1h-1zM130 525h1v1h-1zM131 526h1v1h-1zM132 527h1v1h-1zM133 528h1v1h-1zM151 530h1v1h-1zM152 531h1v1h-1zM153 532h1v1h-1zM154 533h1v1h-1zM167 531h1v2h-1zM168 529h1v2h-1zM169 527h1v2h-1zM170 525h1v2h-1zM195 526h1v1h-1zM196 527h1v1h-1zM197 528h1v1h-1zM198 529h1v1h-1zM203 526h1v1h-1zM206 524h1v1h-1zM207 523h1v1h-1zM219 520h1v1h-1zM222 522h1v1h-1zM223 523h1v2h-1zM224 525h1v2h-1zM225 527h1v2h-1zM226 529h1v1h-1zM243 529h1v2h-1zM244 528h1v1h-1zM245 526h1v2h-1zM246 525h1v1h-1zM247 526h1v1h-1zM248 527h1v2h-1zM249 529h1v1h-1zM250 530h1v1h-1zM271 536h1v1h-1zM274 538h1v1h-1zM275 539h1v1h-1zM278 541h1v1h-1zM291 540h1v1h-1zM294 542h1v1h-1zM295 543h1v1h-1zM319 545h1v1h-1zM320 543h1v2h-1zM321 542h1v1h-1zM347 540h1v1h-1zM350 538h1v1h-1zM359 536h1v1h-1zM360 535h1v1h-1zM361 534h1v1h-1zM362 533h1v1h-1zM367 533h1v2h-1zM368 531h1v2h-1zM369 529h1v2h-1zM387 527h1v2h-1zM388 526h1v1h-1zM389 524h1v2h-1zM390 523h1v1h-1zM391 521h1v2h-1zM392 520h1v1h-1zM393 518h1v2h-1zM394 517h1v1h-1zM395 518h1v1h-1zM396 519h1v1h-1zM397 520h1v1h-1zM407 523h1v1h-1zM410 521h1v1h-1zM419 518h1v1h-1zM431 515h1v1h-1zM434 517h1v1h-1zM443 516h1v2h-1zM444 515h1v1h-1zM445 513h1v2h-1zM446 512h1v1h-1zM447 513h1v2h-1zM448 515h1v2h-1zM449 517h1v2h-1zM450 519h1v1h-1zM471 514h1v1h-1zM472 515h1v1h-1zM473 516h1v1h-1zM474 517h1v1h-1zM475 518h1v2h-1zM476 520h1v1h-1zM477 521h1v2h-1zM478 523h1v1h-1zM479 524h1v2h-1zM480 526h1v1h-1zM481 527h1v2h-1zM482 529h1v1h-1zM487 530h1v1h-1zM490 528h1v1h-1zM499 524h1v2h-1zM500 523h1v1h-1zM501 521h1v2h-1zM502 520h1v1h-1zM507 519h1v1h-1zM510 521h1v1h-1zM511 522h1v1h-1zM514 524h1v1h-1zM515 523h1v1h-1zM516 522h1v1h-1zM517 521h1v1h-1zM518 520h1v1h-1zM531 520h1v1h-1zM532 521h1v2h-1zM533 523h1v1h-1zM534 524h1v1h-1zM535 525h1v1h-1zM559 530h1v1h-1zM562 532h1v1h-1zM563 533h1v2h-1zM564 535h1v1h-1zM565 536h1v2h-1zM566 538h1v1h-1zM571 534h1v2h-1zM572 533h1v1h-1zM573 531h1v2h-1zM574 530h1v1h-1zM579 531h1v1h-1zM582 529h1v1h-1zM583 530h1v1h-1zM586 532h1v1h-1zM587 533h1v1h-1zM588 534h1v1h-1zM589 535h1v1h-1zM599 535h1v1h-1zM600 536h1v1h-1zM601 537h1v1h-1zM602 538h1v1h-1zM603 539h1v1h-1zM611 540h1v1h-1zM612 539h1v1h-1zM613 538h1v1h-1zM635 537h1v1h-1zM636 535h1v2h-1zM637 534h1v1h-1zM643 532h1v1h-1zM644 531h1v1h-1zM645 530h1v1h-1zM651 529h1v1h-1zM652 527h1v2h-1zM653 526h1v1h-1zM654 525h1v1h-1zM655 524h1v1h-1zM656 523h1v1h-1zM657 522h1v1h-1zM663 521h1v1h-1zM666 523h1v1h-1zM683 526h1v1h-1zM684 525h1v1h-1zM685 524h1v1h-1zM691 525h1v1h-1zM692 526h1v2h-1zM693 528h1v1h-1zM694 529h1v1h-1zM723 527h1v1h-1zM726 529h1v1h-1zM747 524h1v1h-1zM750 526h1v1h-1zM751 525h1v1h-1zM752 524h1v1h-1zM753 523h1v1h-1zM754 522h1v1h-1zM755 523h1v2h-1zM756 525h1v2h-1zM757 527h1v2h-1zM763 529h1v1h-1zM764 530h1v1h-1zM765 531h1v1h-1zM766 532h1v1h-1zM767 531h1v1h-1zM770 529h1v1h-1zM771 530h1v1h-1zM772 531h1v2h-1zM773 533h1v1h-1zM774 534h1v1h-1zM775 533h1v1h-1zM778 531h1v1h-1zM779 530h1v1h-1zM787 527h1v1h-1zM788 526h1v1h-1zM789 525h1v1h-1zM790 524h1v1h-1zM791 523h1v1h-1zM794 521h1v1h-1zM795 522h1v1h-1zM796 523h1v2h-1zM797 525h1v1h-1zM798 526h1v1h-1zM811 528h1v1h-1zM812 527h1v1h-1zM813 526h1v1h-1zM814 525h1v1h-1zM815 526h1v1h-1zM818 528h1v1h-1zM819 529h1v1h-1zM822 531h1v1h-1zM823 532h1v1h-1zM826 534h1v1h-1zM847 538h1v1h-1zM859 541h1v1h-1zM860 540h1v1h-1zM861 539h1v1h-1zM891 535h1v2h-1zM892 534h1v1h-1zM893 532h1v2h-1zM894 531h1v1h-1zM903 530h1v1h-1zM906 528h1v1h-1zM907 527h1v1h-1zM915 527h1v1h-1zM916 528h1v2h-1zM917 530h1v1h-1zM918 531h1v1h-1z" fill="#1e90ff"/>
</g>
<g id="frame" fill="#000">
<rect x="1" y="24" width="1164" height="1" fill="#000"/>
<rect x="1" y="24" width="1" height="393" fill="#000"/>
<rect x="1164" y="24" width="1" height="393" fill="#000"/>
<rect x="1" y="416" width="1164" height="1" fill="#000"/>
<rect x="1" y="418" width="1164" height="1" fill="#000"/>
<rect x="1" y="418" width="1" height="73" fill="#000"/>
<rect x="1164" y="418" width="1" height="73" fill="#000"/>
<rect x="1" y="490" width="1164" height="1" fill="#000"/>
<rect x="1" y="492" width="1164" height="1" fill="#000"/>
<rect x="1" y="492" width="1" height="75" fill="#000"/>
<rect x="1164" y="492" width="1" height="75" fill="#000"/>
<rect x="1" y="566" width="1164" height="1" fill="#000"/>
<rect x="1165" y="50" width="2" height="1" fill="#000"/>
<rect x="1165" y="83" width="2" height="1" fill="#000"/>
<rect x="1165" y="116" width="2" height="1" fill="#000"/>
<rect x="1165" y="149" width="2" height="1" fill="#000"/>
<rect x="1165" y="182" width="2" height="1" fill="#000"/>
<rect x="1165" y="215" width="2" height="1" fill="#000"/>
<rect x="1165" y="248" width="2" height="1" fill="#000"/>
<rect x="1165" y="281" width="2" height="1" fill="#000"/>
<rect x="1165" y="314" width="2" height="1" fill="#000"/>
<rect x="1165" y="347" width="2" height="1" fill="#000"/>
<rect x="1165" y="380" width="2" height="1" fill="#000"/>
<rect x="1165" y="413" width="2" height="1" fill="#000"/>
<rect x="1165" y="420" width="1" height="1" fill="#000"/>
<rect x="1165" y="458" width="1" height="1" fill="#000"/>
<rect x="1165" y="489" width="1" height="1" fill="#000"/>
<rect x="1165" y="494" width="1" height="1" fill="#000"/>
<rect x="1165" y="565" width="1" height="1" fill="#000"/>
<rect x="2" y="567" width="1" height="3" fill="#000"/>
<rect x="66" y="567" width="1" height="3" fill="#000"/>
<rect x="130" y="567" width="1" height="3" fill="#000"/>
<rect x="194" y="567" width="1" height="3" fill="#000"/>
<rect x="258" y="567" width="1" height="3" fill="#000"/>
<rect x="322" y="567" width="1" height="3" fill="#000"/>
<rect x="386" y="567" width="1" height="3" fill="#000"/>
<rect x="450" y="567" width="1" height="3" fill="#000"/>
<rect x="514" y="567" width="1" height="3" fill="#000"/>
<rect x="578" y="567" width="1" height="3" fill="#000"/>
<rect x="642" y="567" width="1" height="3" fill="#000"/>
<rect x="706" y="567" width="1" height="3" fill="#000"/>
<rect x="770" y="567" width="1" height="3" fill="#000"/>
<rect x="834" y="567" width="1" height="3" fill="#000"/>
<rect x="898" y="567" width="1" height="3" fill="#000"/>
</g>
<g id="axis">
<text x="1170.5" y="54" font-size="10" fill="#000" stroke="#000" stroke-width="0.25" textLength="33" lengthAdjust="spacingAndGlyphs">1.29510</text>
<text x="1170.5" y="120" font-size="10" fill="#000" stroke="#000" stroke-width="0.25" textLength="33" lengthAdjust="spacingAndGlyphs">1.28280</text>
<text x="1170.5" y="153" font-size="10" fill="#000" stroke="#000" stroke-width="0.25" textLength="33" lengthAdjust="spacingAndGlyphs">1.27665</text>
<text x="1170.5" y="186" font-size="10" fill="#000" stroke="#000" stroke-width="0.25" textLength="33" lengthAdjust="spacingAndGlyphs">1.27050</text>
<text x="1170.5" y="219" font-size="10" fill="#000" stroke="#000" stroke-width="0.25" textLength="33" lengthAdjust="spacingAndGlyphs">1.26435</text>
<text x="1170.5" y="252" font-size="10" fill="#000" stroke="#000" stroke-width="0.25" textLength="33" lengthAdjust="spacingAndGlyphs">1.25820</text>
<text x="1170.5" y="285" font-size="10" fill="#000" stroke="#000" stroke-width="0.25" textLength="33" lengthAdjust="spacingAndGlyphs">1.25205</text>
<text x="1170.5" y="318" font-size="10" fill="#000" stroke="#000" stroke-width="0.25" textLength="33" lengthAdjust="spacingAndGlyphs">1.24590</text>
<text x="1170.5" y="351" font-size="10" fill="#000" stroke="#000" stroke-width="0.25" textLength="33" lengthAdjust="spacingAndGlyphs">1.23975</text>
<text x="1170.5" y="384" font-size="10" fill="#000" stroke="#000" stroke-width="0.25" textLength="33" lengthAdjust="spacingAndGlyphs">1.23360</text>
<text x="1170.5" y="417" font-size="10" fill="#000" stroke="#000" stroke-width="0.25" textLength="33" lengthAdjust="spacingAndGlyphs">1.22745</text>
<rect x="1164" y="81" width="2" height="2" fill="#ff0000"/>
<rect x="1166" y="76" width="37" height="11" fill="#ff0000"/>
<text x="1170.5" y="85" font-size="10" fill="#fff" stroke="#fff" stroke-width="0.25" textLength="33" lengthAdjust="spacingAndGlyphs">1.28912</text>
<rect x="1164" y="156" width="2" height="2" fill="#ff0000"/>
<rect x="1166" y="151" width="37" height="11" fill="#ff0000"/>
<text x="1170.5" y="160" font-size="10" fill="#fff" stroke="#fff" stroke-width="0.25" textLength="33" lengthAdjust="spacingAndGlyphs">1.27515</text>
<rect x="1164" y="221" width="2" height="2" fill="#00ff00"/>
<rect x="1166" y="216" width="37" height="11" fill="#00ff00"/>
<text x="1170.5" y="225" font-size="10" fill="#fff" stroke="#fff" stroke-width="0.25" textLength="33" lengthAdjust="spacingAndGlyphs">1.26303</text>
<rect x="1164" y="302" width="2" height="2" fill="#0000ff"/>
<rect x="1166" y="297" width="37" height="11" fill="#0000ff"/>
<text x="1170.5" y="306" font-size="10" fill="#fff" stroke="#fff" stroke-width="0.25" textLength="33" lengthAdjust="spacingAndGlyphs">1.24800</text>
<rect x="1164" y="388" width="2" height="2" fill="#0000ff"/>
<rect x="1166" y="383" width="37" height="11" fill="#0000ff"/>
<text x="1170.5" y="392" font-size="10" fill="#fff" stroke="#fff" stroke-width="0.25" textLength="33" lengthAdjust="spacingAndGlyphs">1.23203</text>
<rect x="1166" y="230" width="37" height="11" fill="#000"/>
<text x="1170.5" y="239" font-size="10" fill="#fff" stroke="#fff" stroke-width="0.25" textLength="33" lengthAdjust="spacingAndGlyphs">1.26070</text>
<text x="1168" y="429" font-size="10" fill="#000" stroke="#000" stroke-width="0.25" textLength="38" lengthAdjust="spacingAndGlyphs">0.010869</text>
<text x="1168.5" y="462" font-size="10" fill="#000" stroke="#000" stroke-width="0.25" textLength="17.5" lengthAdjust="spacingAndGlyphs">0.00</text>
<text x="1168" y="487" font-size="10" fill="#000" stroke="#000" stroke-width="0.25" textLength="36" lengthAdjust="spacingAndGlyphs">-0.00897</text>
<text x="1168.5" y="503" font-size="10" fill="#000" stroke="#000" stroke-width="0.25" textLength="14.5" lengthAdjust="spacingAndGlyphs">100</text>
<text x="1167.5" y="519" font-size="10" fill="#000" stroke="#000" stroke-width="0.25" textLength="10" lengthAdjust="spacingAndGlyphs">70</text>
<text x="1167.5" y="548" font-size="10" fill="#000" stroke="#000" stroke-width="0.25" textLength="10" lengthAdjust="spacingAndGlyphs">30</text>
<text x="1168.5" y="563" font-size="10" fill="#000" stroke="#000" stroke-width="0.25" textLength="5" lengthAdjust="spacingAndGlyphs">0</text>
</g>
<g id="titles">
<path d="M5 31h7l-3.5 4z" fill="#000" shape-rendering="crispEdges"/>
<text x="17.5" y="36" font-size="10" fill="#000" stroke="#000" stroke-width="0.25" textLength="68" lengthAdjust="spacingAndGlyphs">USDCAD-,Daily</text>
<text x="92.5" y="36" font-size="10" fill="#000" stroke="#000" stroke-width="0.25" textLength="32.5" lengthAdjust="spacingAndGlyphs">1.25664</text>
<text x="128.5" y="36" font-size="10" fill="#000" stroke="#000" stroke-width="0.25" textLength="32.5" lengthAdjust="spacingAndGlyphs">1.26409</text>
<text x="164.5" y="36" font-size="10" fill="#000" stroke="#000" stroke-width="0.25" textLength="32.5" lengthAdjust="spacingAndGlyphs">1.25204</text>
<text x="200.5" y="36" font-size="10" fill="#000" stroke="#000" stroke-width="0.25" textLength="32.5" lengthAdjust="spacingAndGlyphs">1.26070</text>
<text x="6.5" y="431" font-size="10" fill="#000" stroke="#000" stroke-width="0.25" textLength="153.5" lengthAdjust="spacingAndGlyphs">MACD(12,26,9) -0.000872 -0.002960</text>
<text x="6.5" y="505" font-size="10" fill="#000" stroke="#000" stroke-width="0.25" textLength="67.5" lengthAdjust="spacingAndGlyphs">RSI(14) 52.2058</text>
</g>
<g id="dates">
<text x="1" y="579" font-size="10" fill="#000" stroke="#000" stroke-width="0.25" textLength="46" lengthAdjust="spacingAndGlyphs">20 Jul 2021</text>
<text x="65" y="579" font-size="10" fill="#000" stroke="#000" stroke-width="0.25" textLength="47" lengthAdjust="spacingAndGlyphs">8 Aug 2021</text>
<text x="129" y="579" font-size="10" fill="#000" stroke="#000" stroke-width="0.25" textLength="52" lengthAdjust="spacingAndGlyphs">26 Aug 2021</text>
<text x="193" y="579" font-size="10" fill="#000" stroke="#000" stroke-width="0.25" textLength="50.5" lengthAdjust="spacingAndGlyphs">14 Sep 2021</text>
<text x="257" y="579" font-size="10" fill="#000" stroke="#000" stroke-width="0.25" textLength="45" lengthAdjust="spacingAndGlyphs">3 Oct 2021</text>
<text x="321" y="579" font-size="10" fill="#000" stroke="#000" stroke-width="0.25" textLength="50" lengthAdjust="spacingAndGlyphs">21 Oct 2021</text>
<text x="385" y="579" font-size="10" fill="#000" stroke="#000" stroke-width="0.25" textLength="48" lengthAdjust="spacingAndGlyphs">9 Nov 2021</text>
<text x="449" y="579" font-size="10" fill="#000" stroke="#000" stroke-width="0.25" textLength="53" lengthAdjust="spacingAndGlyphs">28 Nov 2021</text>
<text x="513" y="579" font-size="10" fill="#000" stroke="#000" stroke-width="0.25" textLength="50.5" lengthAdjust="spacingAndGlyphs">16 Dec 2021</text>
<text x="577" y="579" font-size="10" fill="#000" stroke="#000" stroke-width="0.25" textLength="45" lengthAdjust="spacingAndGlyphs">4 Jan 2022</text>
<text x="641" y="579" font-size="10" fill="#000" stroke="#000" stroke-width="0.25" textLength="49" lengthAdjust="spacingAndGlyphs">23 Jan 2022</text>
<text x="705" y="579" font-size="10" fill="#000" stroke="#000" stroke-width="0.25" textLength="51.5" lengthAdjust="spacingAndGlyphs">10 Feb 2022</text>
<text x="769" y="579" font-size="10" fill="#000" stroke="#000" stroke-width="0.25" textLength="45.5" lengthAdjust="spacingAndGlyphs">1 Mar 2022</text>
<text x="833" y="579" font-size="10" fill="#000" stroke="#000" stroke-width="0.25" textLength="51" lengthAdjust="spacingAndGlyphs">20 Mar 2022</text>
<text x="897" y="579" font-size="10" fill="#000" stroke="#000" stroke-width="0.25" textLength="46" lengthAdjust="spacingAndGlyphs">7 Apr 2022</text>
</g>
<g id="tabs">
<rect x="0" y="587" width="1203" height="1" fill="#f0f0f0"/>
<rect x="0" y="589" width="1203" height="1" fill="#000"/>
<rect x="0" y="590" width="1203" height="19" fill="#f0f0f0"/>
<rect x="0" y="609" width="1203" height="1" fill="#fcfcfc"/>
<rect x="0" y="610" width="1203" height="1" fill="#f0f0f0"/>
<rect x="428" y="589" width="106" height="18" fill="#fff"/>
<rect x="427" y="589" width="1" height="19" fill="#000"/>
<rect x="534" y="589" width="1" height="19" fill="#000"/>
<rect x="427" y="607" width="108" height="1" fill="#000"/>
<text x="14.5" y="604" font-size="13" fill="#6a6a6a" textLength="77.5" lengthAdjust="spacingAndGlyphs">USDX,Weekly</text>
<text x="114.7" y="604" font-size="13" fill="#6a6a6a" textLength="84.3" lengthAdjust="spacingAndGlyphs">EURUSD-,Daily</text>
<text x="221" y="604" font-size="13" fill="#6a6a6a" textLength="87" lengthAdjust="spacingAndGlyphs">AUDUSD-,Daily</text>
<text x="331.4" y="604" font-size="13" fill="#6a6a6a" textLength="83.6" lengthAdjust="spacingAndGlyphs">USDCHF-,Daily</text>
<text x="438.6" y="604" font-size="13" fill="#000" textLength="84.9" lengthAdjust="spacingAndGlyphs">USDCAD-,Daily</text>
<text x="548" y="604" font-size="13" fill="#6a6a6a" textLength="86.7" lengthAdjust="spacingAndGlyphs">USDCNH-,Daily</text>
<text x="658.2" y="604" font-size="13" fill="#6a6a6a" textLength="85.8" lengthAdjust="spacingAndGlyphs">XAUUSD-,Daily</text>
<text x="766.3" y="604" font-size="13" fill="#6a6a6a" textLength="56.5" lengthAdjust="spacingAndGlyphs">UKOil-,H1</text>
<text x="847.7" y="604" font-size="13" fill="#6a6a6a" textLength="63.5" lengthAdjust="spacingAndGlyphs">DJ30-,Daily</text>
<text x="934.6" y="604" font-size="13" fill="#6a6a6a" textLength="60.7" lengthAdjust="spacingAndGlyphs">UK100-,H1</text>
<text x="1019.5" y="604" font-size="13" fill="#6a6a6a" textLength="54.9" lengthAdjust="spacingAndGlyphs">USOil-,H1</text>
<text x="1097.7" y="604" font-size="13" fill="#6a6a6a" textLength="53.9" lengthAdjust="spacingAndGlyphs">HK50-,H1</text>
<rect x="103" y="592" width="1" height="14" fill="#606060"/>
<rect x="211" y="592" width="1" height="14" fill="#606060"/>
<rect x="319" y="592" width="1" height="14" fill="#606060"/>
<rect x="647" y="592" width="1" height="14" fill="#606060"/>
<rect x="755" y="592" width="1" height="14" fill="#606060"/>
<rect x="835" y="592" width="1" height="14" fill="#606060"/>
<rect x="923" y="592" width="1" height="14" fill="#606060"/>
<rect x="1007" y="592" width="1" height="14" fill="#606060"/>
<rect x="1087" y="592" width="1" height="14" fill="#606060"/>
<rect x="1163" y="592" width="1" height="14" fill="#606060"/>
<rect x="1173" y="595" width="1" height="9" fill="#f2f2e2"/>
<path d="M1183 595v6l-3-3z" fill="#a0a0a0" shape-rendering="geometricPrecision"/>
<path d="M1199 595v6l3-3z" fill="#000" shape-rendering="geometricPrecision"/>
</g>
</svg></body></html>
